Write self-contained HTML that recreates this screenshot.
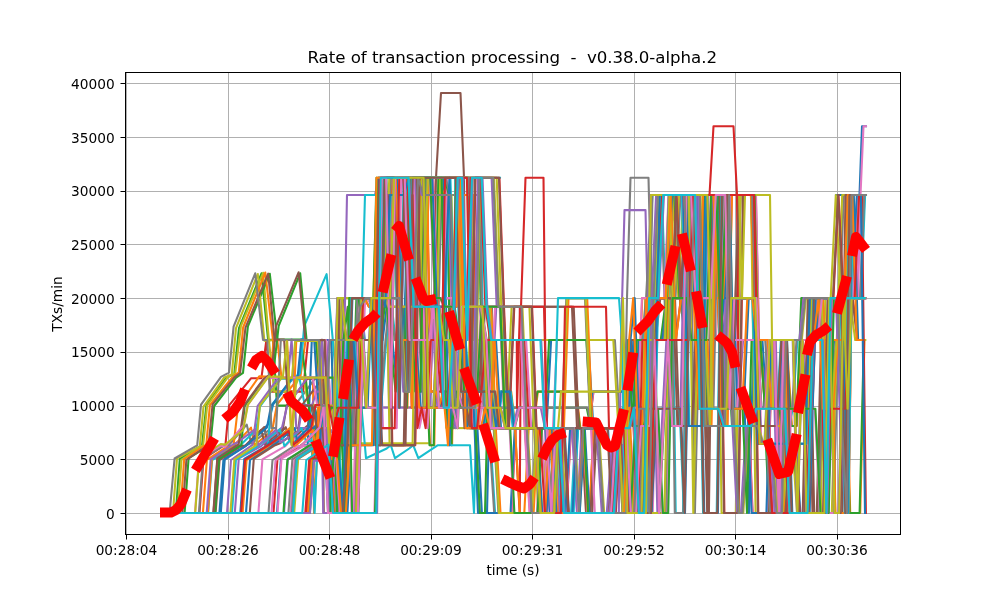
<!DOCTYPE html>
<html><head><meta charset="utf-8"><title>Rate of transaction processing</title>
<style>html,body{margin:0;padding:0;background:#fff;overflow:hidden}svg{display:block}</style></head><body>
<svg width="1000" height="600" viewBox="0 0 1000 600">
<rect width="1000" height="600" fill="#fff"/>
<defs><clipPath id="ax"><rect x="125" y="72" width="776" height="463"/></clipPath></defs>
<g fill="#b0b0b0">
<rect x="126" y="72" width="1" height="463"/>
<rect x="228" y="72" width="1" height="463"/>
<rect x="329" y="72" width="1" height="463"/>
<rect x="431" y="72" width="1" height="463"/>
<rect x="532" y="72" width="1" height="463"/>
<rect x="634" y="72" width="1" height="463"/>
<rect x="735" y="72" width="1" height="463"/>
<rect x="837" y="72" width="1" height="463"/>
<rect x="125" y="513" width="776" height="1"/>
<rect x="125" y="459" width="776" height="1"/>
<rect x="125" y="406" width="776" height="1"/>
<rect x="125" y="352" width="776" height="1"/>
<rect x="125" y="298" width="776" height="1"/>
<rect x="125" y="244" width="776" height="1"/>
<rect x="125" y="191" width="776" height="1"/>
<rect x="125" y="137" width="776" height="1"/>
<rect x="125" y="83" width="776" height="1"/>
</g>
<g clip-path="url(#ax)">
<g fill="none" stroke-width="2.08" stroke-linejoin="round" stroke-linecap="square">
<polyline stroke="#bcbd22" points="353.5,443.2 427.7,443.2"/>
<polyline stroke="#9467bd" points="366.0,407.7 424.0,407.7"/>
<polyline stroke="#bcbd22" points="424.0,407.7 479.0,407.7"/>
<polyline stroke="#bcbd22" points="451.0,428.1 479.0,428.1"/>
<polyline stroke="#d62728" points="423.0,391.6 448.0,391.6"/>
<polyline stroke="#bcbd22" points="377.0,177.8 430.0,177.8"/>
<polyline stroke="#17becf" points="430.0,177.8 500.0,177.8"/>
<polyline stroke="#e377c2" points="657.0,195.0 700.0,195.0"/>
<polyline stroke="#9467bd" points="700.0,195.0 746.0,195.0"/>
<polyline stroke="#1f77b4" points="836.0,195.0 866.0,195.0"/>
<polyline stroke="#1f77b4" points="170.9,513.0 220.8,513.0 224.8,458.6 246.8,445.1 250.9,442.9 268.2,424.2 273.0,404.7 293.6,377.3 298.6,377.3 302.7,340.0 306.9,340.0 311.7,340.0 317.0,340.0 321.8,340.0 327.2,340.0 331.5,340.0 333.0,407.7 337.8,407.7 342.2,407.7 347.0,513.0 351.1,298.1 355.3,298.1 360.6,298.1 364.8,340.0 370.1,340.0 374.4,340.0 378.4,177.8 382.6,340.0 387.8,298.1 392.3,340.0 397.6,391.6 402.1,340.0 407.1,340.0 412.5,177.8 417.3,391.6 422.3,391.6 426.7,177.8 430.9,177.8 435.1,177.8 439.4,177.8 443.5,177.8 448.5,428.1 453.5,428.1 458.1,391.6 462.4,407.7 467.3,407.7 472.4,428.1 477.4,428.1 481.9,513.0 487.0,513.0 492.0,306.7 497.2,306.7 502.0,306.7 507.0,428.1 511.8,428.1 515.9,428.1 520.1,428.1 524.2,428.1 528.4,428.1 532.8,428.1 537.1,428.1 541.7,428.1 546.5,428.1 551.1,340.0 555.2,340.0 560.2,340.0 564.9,340.0 569.3,340.0 574.2,340.0 579.0,340.0 583.9,340.0 588.2,340.0 593.4,428.1 598.4,428.1 602.8,428.1 608.1,428.1 612.3,428.1 616.7,428.1 621.7,428.1 626.5,428.1 630.6,340.0 634.6,426.0 638.7,340.0 643.6,340.0 647.8,340.0 652.3,340.0 656.9,340.0 662.2,340.0 667.4,340.0 672.5,195.0 677.1,195.0 681.8,195.0 686.7,195.0 690.9,195.0 696.2,195.0 700.7,298.1 705.6,195.0 710.7,195.0 715.9,195.0 720.8,195.0 725.4,408.8 730.2,408.8 735.2,408.8 739.8,408.8 744.5,408.8 748.9,513.0 753.6,340.0 758.0,340.0 762.4,340.0 766.8,408.8 771.6,408.8 776.2,408.8 781.4,408.8 786.5,443.7 791.5,443.7 795.9,443.7 800.4,513.0 804.7,513.0 809.9,513.0 815.0,513.0 819.6,513.0 823.8,513.0 828.3,513.0 832.5,298.1 837.4,298.1 842.6,298.1 847.1,298.1 851.1,298.1 855.8,298.1 860.3,298.1 864.7,298.1"/>
<polyline stroke="#ff7f0e" points="170.2,513.0 202.9,513.0 206.9,459.8 228.3,445.9 233.2,446.3 251.0,427.6 254.4,445.3 272.2,430.5 277.0,404.5 298.0,378.9 303.0,378.9 307.7,378.9 313.0,378.9 314.0,513.0 318.7,428.1 323.3,445.3 328.1,445.3 333.3,513.0 337.8,513.0 342.8,340.0 347.3,340.0 352.3,340.0 357.2,340.0 361.3,340.0 365.4,340.0 370.4,340.0 375.2,298.1 380.2,298.1 384.2,298.1 388.3,298.1 393.5,177.8 398.6,306.7 403.1,306.7 407.4,407.7 412.4,177.8 417.0,177.8 421.7,340.0 425.7,340.0 430.1,445.3 434.3,445.3 438.9,177.8 443.5,195.0 447.7,195.0 452.1,445.3 456.1,177.8 461.3,177.8 465.4,177.8 469.9,177.8 474.3,177.8 478.6,177.8 483.1,391.6 487.5,428.1 492.2,428.1 496.5,428.1 501.3,391.6 506.5,391.6 511.2,391.6 515.4,428.1 519.8,428.1 524.6,428.1 529.0,428.1 533.3,428.1 537.9,391.6 542.8,391.6 547.4,391.6 552.7,391.6 557.7,391.6 562.4,391.6 566.6,391.6 572.0,391.6 576.3,391.6 580.4,428.1 585.8,428.1 591.1,428.1 595.3,428.1 599.7,428.1 603.9,428.1 608.9,428.1 612.9,428.1 618.0,428.1 623.3,407.7 628.5,407.7 633.0,426.0 637.6,426.0 641.7,426.0 647.0,426.0 651.0,340.0 656.3,340.0 661.4,340.0 666.7,298.1 670.8,298.1 675.3,298.1 680.6,298.1 686.0,340.0 690.9,340.0 695.3,340.0 699.5,195.0 704.3,340.0 708.7,340.0 712.9,340.0 717.0,340.0 721.4,340.0 725.7,340.0 730.2,340.0 734.8,340.0 739.1,340.0 743.5,340.0 748.6,340.0 753.8,340.0 758.8,340.0 763.0,340.0 768.2,340.0 772.9,340.0 777.1,340.0 782.0,340.0 786.8,340.0 791.9,426.0 797.0,426.0 801.9,298.1 806.1,298.1 811.4,298.1 816.2,298.1 820.4,298.1 825.2,298.1 829.9,298.1 834.9,298.1 840.0,298.1 845.0,298.1 850.2,513.0 854.9,513.0 860.2,513.0 864.5,340.0"/>
<polyline stroke="#2ca02c" points="174.5,513.0 175.8,513.0 179.8,458.8 202.1,445.2 206.4,405.2 226.3,377.5 234.3,374.2 239.0,328.1 261.5,273.3 268.1,339.9 273.0,339.9 277.0,405.6 282.3,405.6 286.3,405.6 290.5,405.6 295.2,405.6 300.6,405.6 305.2,405.6 310.3,405.6 314.4,405.6 319.4,428.1 323.8,445.3 328.4,445.3 332.7,513.0 337.2,513.0 342.2,340.0 346.6,340.0 351.7,340.0 356.6,340.0 360.6,340.0 364.7,340.0 369.7,340.0 374.5,298.1 379.5,298.1 383.6,298.1 387.7,298.1 392.8,177.8 398.0,306.7 402.5,306.7 406.8,407.7 411.8,177.8 416.4,177.8 421.0,340.0 425.1,340.0 429.5,445.3 433.7,445.3 438.3,177.8 442.9,195.0 447.1,195.0 451.5,445.3 455.5,177.8 460.6,177.8 464.8,177.8 469.3,177.8 473.7,177.8 478.0,177.8 482.5,391.6 486.9,428.1 491.5,428.1 495.9,428.1 500.7,391.6 505.9,391.6 510.6,391.6 514.8,428.1 519.2,428.1 524.0,428.1 528.4,428.1 532.7,428.1 537.3,391.6 542.2,391.6 546.8,391.6 552.1,391.6 557.1,391.6 561.8,391.6 566.0,391.6 571.3,391.6 575.7,391.6 579.8,428.1 585.2,428.1 590.4,428.1 594.6,428.1 599.0,428.1 603.2,428.1 608.2,428.1 612.3,428.1 617.4,428.1 622.7,407.7 627.8,407.7 632.3,426.0 637.0,426.0 641.1,426.0 646.3,426.0 650.4,340.0 655.7,340.0 660.8,340.0 666.1,298.1 670.1,298.1 674.6,298.1 680.0,298.1 685.3,340.0 690.3,340.0 694.7,340.0 698.9,195.0 703.7,340.0 708.0,340.0 712.2,340.0 716.4,340.0 720.8,340.0 725.1,340.0 729.5,340.0 734.2,340.0 738.4,340.0 742.9,340.0 748.0,340.0 753.2,340.0 758.2,340.0 762.4,340.0 767.6,340.0 772.3,340.0 776.5,340.0 781.3,340.0 786.2,340.0 791.3,426.0 796.3,426.0 801.3,298.1 805.5,298.1 810.7,298.1 815.5,298.1 819.8,298.1 824.6,298.1 829.3,298.1 834.3,298.1 839.4,298.1 844.4,298.1 849.6,513.0 854.2,513.0 859.6,513.0 863.9,340.0"/>
<polyline stroke="#d62728" points="176.7,513.0 199.5,513.0 203.5,459.0 225.5,444.4 229.1,405.4 251.2,378.2 256.3,378.2 261.4,378.2 266.4,340.0 270.5,391.6 274.8,391.6 279.3,391.6 284.0,391.6 288.9,391.6 293.4,391.6 298.7,391.6 303.0,391.6 308.1,340.0 313.2,340.0 318.5,340.0 323.1,459.3 328.3,459.3 332.4,459.3 336.5,459.3 341.3,513.0 345.4,513.0 350.4,407.7 355.8,407.7 360.0,298.1 364.4,298.1 368.9,306.7 373.2,306.7 377.7,306.7 382.6,306.7 387.8,298.1 392.9,177.8 397.2,177.8 401.9,177.8 406.7,177.8 411.7,407.7 417.1,177.8 421.5,177.8 426.7,177.8 430.9,391.6 435.6,391.6 440.2,407.7 445.2,407.7 450.5,407.7 454.8,407.7 459.1,407.7 463.6,195.0 468.7,195.0 473.1,195.0 478.5,428.1 482.9,428.1 487.6,428.1 492.0,428.1 497.1,428.1 501.5,428.1 505.9,428.1 510.2,428.1 514.9,428.1 519.7,513.0 521.0,306.7 525.5,177.8 543.5,177.8 547.0,513.0 547.7,428.1 552.4,428.1 556.9,513.0 562.1,513.0 566.3,513.0 571.5,513.0 576.3,513.0 580.6,513.0 585.2,513.0 589.5,513.0 593.6,428.1 598.4,428.1 603.3,428.1 607.4,428.1 612.0,428.1 617.3,428.1 622.4,428.1 627.0,428.1 631.7,513.0 636.9,513.0 641.6,513.0 646.2,298.1 651.2,298.1 655.7,340.0 660.9,340.0 666.1,340.0 670.7,340.0 675.8,340.0 680.9,298.1 685.9,298.1 690.5,298.1 695.4,298.1 699.4,298.1 704.8,298.1 709.0,298.1 713.8,298.1 717.8,298.1 721.9,426.0 727.3,426.0 731.7,195.0 736.2,195.0 741.1,195.0 746.1,195.0 750.9,195.0 755.5,340.0 760.0,340.0 765.1,408.8 770.0,408.8 774.5,408.8 779.4,408.8 784.1,513.0 789.5,513.0 793.7,513.0 799.0,513.0 803.5,513.0 808.6,513.0 813.0,298.1 817.4,298.1 822.7,298.1 826.9,298.1 831.1,298.1 835.2,513.0 839.6,513.0 843.9,513.0 848.4,513.0 853.0,195.0 858.3,195.0 863.6,195.0"/>
<polyline stroke="#9467bd" points="176.6,513.0 284.0,513.0 288.0,459.0 310.2,446.4 314.4,446.7 332.4,429.8 334.8,513.0 338.8,513.0 342.9,513.0 347.2,513.0 351.3,513.0 356.3,513.0 361.6,340.0 365.7,407.7 370.1,407.7 375.5,407.7 380.2,177.8 384.5,177.8 389.2,407.7 393.4,177.8 398.6,177.8 403.1,177.8 407.9,340.0 413.1,340.0 417.3,340.0 422.2,340.0 427.6,340.0 432.0,306.7 437.3,407.7 441.6,407.7 446.8,407.7 451.5,407.7 455.9,428.1 460.2,306.7 465.0,306.7 469.1,306.7 474.5,306.7 479.3,306.7 484.7,340.0 489.2,428.1 494.3,428.1 498.9,428.1 503.8,428.1 508.2,428.1 512.7,428.1 517.8,407.7 522.2,407.7 527.1,407.7 531.9,407.7 536.3,407.7 540.8,407.7 544.9,428.1 549.5,513.0 553.9,428.1 558.6,428.1 563.5,428.1 567.8,428.1 572.4,428.1 576.9,513.0 581.3,513.0 585.7,513.0 590.8,513.0 595.4,513.0 599.9,513.0 604.1,513.0 609.4,513.0 614.6,428.1 620.0,428.1 624.8,428.1 629.4,513.0 634.4,513.0 639.4,426.0 643.9,426.0 648.0,426.0 652.9,340.0 657.4,513.0 661.8,426.0 666.4,340.0 670.7,426.0 675.9,426.0 680.2,426.0 684.9,195.0 689.5,195.0 693.9,298.1 699.2,298.1 704.5,298.1 709.1,298.1 714.2,195.0 718.9,195.0 723.6,195.0 727.9,408.8 732.7,298.1 737.5,298.1 741.7,298.1 745.8,298.1 750.6,298.1 754.8,298.1 759.5,408.8 763.5,408.8 767.8,340.0 772.6,340.0 777.5,513.0 781.9,340.0 786.2,340.0 790.9,340.0 796.0,340.0 800.5,340.0 805.8,340.0 811.2,340.0 816.1,340.0 820.3,298.1 825.2,298.1 830.3,298.1 835.5,298.1 840.5,298.1 845.8,298.1 851.2,298.1 855.5,298.1 860.2,298.1 864.6,195.0"/>
<polyline stroke="#8c564b" points="170.2,513.0 215.6,513.0 219.6,460.1 241.9,445.7 245.6,445.7 264.3,427.1 268.0,446.6 285.8,427.2 289.7,441.5 307.9,425.2 311.8,406.8 316.0,406.8 320.1,406.8 325.0,340.0 329.1,428.1 330.6,513.0 334.7,445.3 339.3,298.1 344.5,445.3 348.9,445.3 354.1,340.0 358.2,513.0 362.9,340.0 367.6,340.0 372.2,340.0 376.8,340.0 382.2,445.3 387.0,445.3 391.1,445.3 396.0,445.3 400.6,445.3 405.5,445.3 410.1,177.8 414.2,177.8 418.5,177.8 423.4,340.0 428.1,340.0 433.2,340.0 436.0,177.8 441.0,93.0 460.5,93.0 464.0,177.8 466.2,428.1 470.8,391.6 475.4,391.6 480.8,391.6 485.0,306.7 489.1,306.7 494.1,306.7 498.3,306.7 502.8,306.7 507.6,306.7 511.7,306.7 517.0,306.7 521.2,306.7 526.6,306.7 530.9,306.7 535.3,306.7 540.2,306.7 545.5,306.7 549.8,306.7 554.4,306.7 559.0,306.7 564.1,306.7 568.8,306.7 573.7,306.7 578.7,428.1 583.1,428.1 587.7,513.0 592.2,513.0 597.0,428.1 602.2,428.1 606.8,428.1 612.0,428.1 616.8,428.1 621.9,428.1 627.1,428.1 631.5,340.0 636.8,340.0 641.9,340.0 646.6,340.0 651.6,340.0 655.6,340.0 660.3,298.1 664.6,298.1 669.8,298.1 675.0,298.1 679.1,426.0 683.5,426.0 688.6,426.0 693.9,426.0 698.5,298.1 703.7,298.1 708.9,513.0 713.1,195.0 717.6,195.0 723.0,195.0 727.2,195.0 731.3,340.0 735.4,340.0 740.7,195.0 746.0,195.0 750.7,195.0 755.8,195.0 760.4,408.8 764.5,408.8 768.6,408.8 772.9,513.0 777.3,513.0 781.7,513.0 785.8,513.0 790.5,513.0 795.9,513.0 799.9,513.0 804.5,513.0 809.6,298.1 814.2,513.0 818.5,513.0 822.8,340.0 827.9,513.0 833.0,513.0 837.7,513.0 842.4,513.0 847.3,195.0 852.0,195.0 856.2,195.0 861.6,195.0"/>
<polyline stroke="#e377c2" points="166.6,513.0 258.4,513.0 262.4,459.3 284.9,446.4 289.1,442.1 307.1,430.3 310.7,442.5 315.1,442.5 320.4,442.5 321.9,340.0 326.0,340.0 331.2,407.7 335.4,407.7 340.7,407.7 345.6,407.7 350.7,407.7 355.9,407.7 360.1,407.7 365.2,298.1 369.9,298.1 374.1,298.1 378.4,298.1 383.0,428.1 387.2,428.1 391.9,428.1 396.7,428.1 401.2,177.8 405.4,177.8 410.2,298.1 414.5,195.0 419.4,428.1 423.6,407.7 427.6,428.1 432.8,340.0 437.6,340.0 443.0,391.6 447.1,177.8 451.3,177.8 455.6,177.8 459.9,177.8 464.5,177.8 468.9,177.8 473.8,428.1 479.0,428.1 483.3,391.6 488.3,340.0 493.4,340.0 497.8,340.0 502.3,340.0 507.4,340.0 512.3,340.0 516.8,340.0 521.9,340.0 526.1,340.0 531.3,428.1 536.5,428.1 541.7,428.1 547.0,513.0 552.2,513.0 557.3,513.0 562.2,513.0 567.6,513.0 572.8,513.0 577.8,428.1 582.3,428.1 587.4,428.1 592.8,428.1 596.9,428.1 602.0,428.1 606.4,428.1 610.7,428.1 615.2,428.1 620.5,428.1 625.9,428.1 630.4,513.0 635.8,513.0 640.0,513.0 644.4,340.0 648.7,340.0 652.7,513.0 657.2,340.0 661.9,340.0 666.9,340.0 671.1,340.0 675.8,340.0 681.1,340.0 685.4,340.0 690.6,340.0 695.0,195.0 700.0,195.0 704.0,195.0 709.0,195.0 713.2,195.0 718.6,195.0 722.7,195.0 726.8,195.0 731.7,195.0 736.7,195.0 741.3,195.0 746.6,195.0 751.0,195.0 756.0,195.0 761.2,443.7 765.3,443.7 770.0,443.7 774.2,513.0 779.2,513.0 784.6,513.0 789.0,513.0 793.3,513.0 798.2,513.0 802.8,513.0 807.9,513.0 812.9,513.0 817.6,513.0 822.1,513.0 827.3,513.0 832.5,408.8 836.9,408.8 842.0,408.8 847.2,408.8 851.8,298.1 856.6,298.1 861.1,195.0"/>
<polyline stroke="#7f7f7f" points="171.6,513.0 198.9,513.0 202.9,458.3 224.5,445.1 229.0,445.0 246.7,424.6 251.2,443.6 269.0,430.1 272.2,444.6 291.4,428.8 295.1,405.2 315.8,377.6 328.3,378.4 329.8,445.3 334.2,445.3 338.3,445.3 343.4,298.1 348.3,298.1 353.5,298.1 357.6,298.1 361.9,298.1 366.0,298.1 371.4,298.1 376.6,298.1 381.2,298.1 385.7,298.1 390.9,177.8 395.5,177.8 399.5,177.8 404.1,177.8 408.2,177.8 412.3,177.8 416.7,177.8 421.1,177.8 426.2,407.7 431.2,391.6 436.5,391.6 441.9,177.8 446.5,177.8 451.3,177.8 456.0,177.8 461.2,177.8 465.9,177.8 471.1,177.8 475.3,340.0 480.3,340.0 484.9,340.0 489.5,340.0 493.5,340.0 497.5,340.0 502.7,340.0 506.9,340.0 511.6,340.0 516.9,340.0 520.9,340.0 525.0,340.0 530.0,340.0 534.7,340.0 540.1,340.0 544.8,340.0 549.2,340.0 553.7,340.0 558.3,340.0 563.1,340.0 567.6,340.0 572.0,340.0 576.8,340.0 581.1,340.0 586.4,340.0 591.5,340.0 595.7,340.0 600.6,340.0 604.9,340.0 610.0,340.0 614.9,340.0 620.0,428.1 624.5,428.1 627.0,298.1 630.5,177.8 648.5,177.8 651.5,298.1 652.0,513.0 656.4,513.0 661.2,513.0 666.0,513.0 670.6,298.1 675.5,298.1 680.5,195.0 685.9,195.0 690.5,195.0 694.9,513.0 700.0,298.1 705.1,298.1 710.3,298.1 714.4,298.1 718.4,195.0 723.8,195.0 728.4,195.0 733.0,195.0 738.3,195.0 743.5,195.0 748.7,195.0 753.4,195.0 758.4,426.0 763.1,426.0 768.0,426.0 773.4,426.0 778.3,426.0 782.4,426.0 787.2,513.0 791.2,513.0 795.3,513.0 800.7,513.0 805.5,513.0 810.3,513.0 814.8,513.0 819.2,513.0 823.9,513.0 828.7,513.0 833.4,513.0 838.4,340.0 843.8,195.0 848.8,195.0 853.9,195.0 858.2,195.0 862.7,195.0"/>
<polyline stroke="#bcbd22" points="167.5,513.0 177.5,513.0 181.5,459.8 203.2,444.9 207.2,405.5 228.2,376.9 235.3,373.1 240.9,326.1 263.1,272.8 268.9,340.2 274.2,391.6 279.5,391.6 283.9,391.6 288.6,391.6 293.4,391.6 298.6,377.6 303.6,377.6 308.4,405.6 313.0,405.6 317.2,405.6 321.6,405.6 326.7,405.6 332.0,405.6 333.8,445.3 338.8,445.3 343.1,445.3 347.8,445.3 352.5,445.3 357.4,340.0 362.5,340.0 367.1,340.0 371.9,340.0 376.5,195.0 381.3,195.0 385.4,195.0 389.6,445.3 394.1,445.3 399.0,445.3 403.1,445.3 407.5,445.3 412.6,445.3 417.0,177.8 421.1,177.8 425.4,407.7 429.7,407.7 434.5,407.7 439.2,407.7 444.3,407.7 449.6,407.7 454.0,407.7 458.7,407.7 463.6,407.7 467.6,428.1 472.8,177.8 477.7,177.8 482.3,177.8 487.2,177.8 492.2,177.8 496.7,177.8 501.3,306.7 506.2,428.1 511.6,306.7 515.8,306.7 520.4,306.7 524.7,306.7 529.4,306.7 533.9,428.1 538.3,513.0 542.7,513.0 548.0,428.1 552.4,428.1 556.7,428.1 561.5,428.1 566.0,513.0 570.8,513.0 575.0,513.0 580.4,513.0 585.6,513.0 590.5,513.0 595.1,513.0 599.5,513.0 603.9,513.0 608.7,513.0 613.0,513.0 617.7,428.1 622.5,513.0 626.6,513.0 630.8,513.0 635.6,513.0 640.6,513.0 645.2,298.1 649.5,298.1 654.8,298.1 659.9,298.1 664.4,298.1 669.7,298.1 673.9,195.0 678.3,298.1 683.3,195.0 688.3,195.0 692.7,195.0 697.8,195.0 703.1,195.0 707.6,195.0 712.9,195.0 717.2,195.0 721.6,513.0 725.9,513.0 730.6,513.0 735.8,513.0 740.6,195.0 745.9,195.0 751.0,195.0 755.6,513.0 760.6,513.0 765.0,513.0 770.1,513.0 774.2,513.0 778.7,513.0 783.1,513.0 787.9,443.7 792.4,443.7 797.1,513.0 801.7,513.0 806.3,513.0 811.0,513.0 816.0,513.0 820.8,513.0 825.3,298.1 830.7,298.1 835.8,195.0 840.8,298.1 845.6,298.1 849.9,298.1 855.2,340.0 860.4,340.0 865.3,340.0"/>
<polyline stroke="#17becf" points="165.4,513.0 208.1,513.0 212.1,460.1 234.7,445.7 238.8,446.8 256.3,429.5 260.0,406.3 280.5,378.8 284.7,378.8 289.6,378.8 294.3,378.8 299.5,378.8 304.9,405.6 309.9,405.6 314.6,513.0 319.2,405.6 324.4,459.3 329.4,407.7 334.5,407.7 339.6,407.7 344.3,407.7 348.5,407.7 353.1,407.7 357.9,407.7 362.9,407.7 367.7,407.7 371.8,407.7 376.6,407.7 381.1,407.7 386.4,340.0 390.9,298.1 395.6,340.0 400.5,340.0 405.7,340.0 411.1,340.0 415.8,340.0 420.2,340.0 424.3,407.7 428.4,407.7 432.7,407.7 437.8,407.7 442.0,407.7 447.2,407.7 452.1,407.7 457.0,195.0 462.0,195.0 466.8,195.0 471.8,195.0 475.9,195.0 480.5,195.0 484.9,428.1 489.7,428.1 495.1,513.0 499.3,513.0 503.5,513.0 508.6,513.0 513.5,513.0 517.8,513.0 522.6,513.0 527.3,513.0 531.5,513.0 536.0,513.0 541.3,513.0 546.5,513.0 550.8,513.0 556.1,428.1 560.6,428.1 564.7,428.1 568.9,513.0 573.4,513.0 578.2,428.1 583.5,428.1 588.0,428.1 592.2,428.1 596.3,428.1 600.9,428.1 605.4,428.1 610.0,428.1 614.4,428.1 619.4,428.1 623.8,428.1 627.9,340.0 633.1,340.0 638.2,340.0 642.9,340.0 647.0,298.1 652.4,195.0 657.8,195.0 661.9,195.0 667.0,340.0 671.4,195.0 675.7,513.0 679.7,513.0 683.9,513.0 688.8,195.0 693.1,195.0 697.3,298.1 702.1,298.1 706.7,298.1 712.0,298.1 716.9,298.1 721.1,195.0 725.3,195.0 730.7,340.0 734.9,298.1 739.5,298.1 744.8,298.1 748.8,298.1 753.9,298.1 758.1,426.0 762.8,426.0 767.3,426.0 771.6,426.0 775.7,426.0 779.8,426.0 784.2,426.0 788.8,426.0 792.9,408.8 797.4,340.0 802.7,340.0 807.4,340.0 812.6,340.0 817.8,340.0 822.9,340.0 827.7,340.0 832.6,340.0 837.9,340.0 843.2,298.1 847.3,298.1 851.6,298.1 856.3,298.1 861.0,298.1 865.1,195.0"/>
<polyline stroke="#1f77b4" points="173.7,513.0 277.0,513.0 281.0,458.2 303.4,445.4 307.7,445.0 311.8,340.0 317.2,340.0 319.9,445.3 324.7,445.3 329.7,445.3 334.2,513.0 338.8,513.0 343.4,513.0 347.7,445.3 352.4,298.1 357.4,298.1 361.8,298.1 367.2,298.1 371.3,298.1 376.2,445.3 380.9,445.3 385.0,177.8 389.9,177.8 395.0,177.8 399.7,407.7 404.9,177.8 409.2,391.6 413.3,177.8 418.5,177.8 422.9,177.8 427.8,177.8 432.2,177.8 437.1,177.8 441.3,177.8 446.5,177.8 451.4,177.8 456.3,177.8 461.6,391.6 466.6,391.6 471.8,391.6 477.0,391.6 481.5,391.6 486.5,391.6 491.0,391.6 495.4,391.6 499.5,428.1 504.5,428.1 509.1,428.1 514.3,428.1 519.0,428.1 524.4,428.1 528.8,428.1 533.2,428.1 537.3,428.1 541.9,428.1 546.6,428.1 551.7,428.1 556.2,428.1 560.8,428.1 565.0,428.1 569.5,428.1 574.3,428.1 579.4,428.1 584.2,428.1 588.9,428.1 593.6,428.1 597.8,428.1 602.9,428.1 608.0,428.1 612.2,513.0 616.6,513.0 621.6,513.0 626.2,513.0 631.4,513.0 636.7,513.0 641.7,513.0 646.1,513.0 651.5,513.0 656.8,408.8 661.7,408.8 666.3,408.8 670.3,408.8 675.7,408.8 680.7,408.8 685.0,513.0 689.4,298.1 694.6,298.1 699.7,298.1 704.3,513.0 708.9,513.0 713.5,513.0 717.9,513.0 722.4,195.0 727.6,195.0 732.0,408.8 736.1,298.1 741.2,298.1 746.0,298.1 750.3,298.1 755.1,298.1 760.4,426.0 764.6,426.0 769.0,426.0 773.1,426.0 777.4,426.0 782.0,340.0 787.1,340.0 792.3,513.0 796.4,513.0 800.6,513.0 804.9,513.0 809.3,513.0 814.4,298.1 818.4,298.1 823.4,298.1 827.9,298.1 832.0,298.1 836.6,298.1 841.9,298.1 845.9,513.0 850.0,195.0 854.5,195.0 855.0,195.0 859.5,195.0 862.0,126.3 866.0,126.3"/>
<polyline stroke="#ff7f0e" points="175.5,513.0 207.9,513.0 211.9,458.1 233.6,445.2 238.0,406.5 259.2,376.4 270.8,376.9 273.4,340.8 277.4,340.8 281.5,377.6 285.5,377.6 290.4,377.6 295.6,377.6 300.3,377.6 305.6,340.0 311.0,340.0 316.2,340.0 320.6,340.0 325.3,459.3 330.6,513.0 335.6,445.3 340.2,513.0 344.9,513.0 349.1,513.0 353.8,513.0 358.5,298.1 362.6,298.1 367.4,298.1 372.8,306.7 377.4,306.7 381.5,177.8 386.6,177.8 390.7,177.8 395.5,177.8 400.7,306.7 405.4,177.8 409.5,177.8 413.7,177.8 418.5,306.7 423.6,306.7 428.9,407.7 433.1,298.1 438.5,298.1 442.7,298.1 447.8,298.1 452.7,298.1 457.7,391.6 462.4,407.7 466.5,407.7 471.8,407.7 475.9,407.7 480.2,407.7 484.8,407.7 490.1,407.7 495.4,306.7 500.1,306.7 504.9,306.7 510.2,306.7 515.0,306.7 520.1,306.7 525.0,428.1 529.9,513.0 534.6,513.0 538.8,513.0 544.1,513.0 548.8,428.1 554.1,428.1 559.1,513.0 563.7,513.0 568.5,513.0 573.7,513.0 577.9,513.0 581.9,513.0 586.5,513.0 590.7,513.0 595.1,513.0 599.5,513.0 604.2,513.0 609.2,513.0 613.5,513.0 618.0,513.0 623.0,513.0 628.3,407.7 633.6,407.7 638.2,407.7 642.2,298.1 646.8,298.1 651.4,298.1 656.0,298.1 660.2,298.1 664.7,298.1 668.8,195.0 673.8,195.0 678.7,195.0 683.2,195.0 687.7,195.0 692.4,195.0 697.2,298.1 701.2,298.1 705.6,298.1 710.1,298.1 714.4,298.1 718.4,195.0 723.6,408.8 729.0,408.8 733.3,408.8 737.4,408.8 742.2,340.0 747.0,340.0 752.0,340.0 756.9,340.0 761.1,340.0 766.2,340.0 770.8,340.0 775.0,340.0 779.0,513.0 783.6,513.0 788.5,513.0 793.6,513.0 797.9,513.0 802.7,513.0 807.2,513.0 811.9,513.0 816.9,513.0 821.0,513.0 825.1,513.0 829.9,513.0 834.6,513.0 839.4,513.0 844.5,298.1 849.1,195.0 853.5,298.1 858.8,298.1 863.3,298.1"/>
<polyline stroke="#2ca02c" points="171.4,513.0 184.6,513.0 188.6,458.1 210.3,444.9 214.2,406.0 236.1,377.7 243.0,372.9 247.9,326.3 269.8,273.8 277.4,339.5 282.7,339.5 287.9,339.5 292.1,339.5 296.4,339.5 300.9,339.5 305.7,377.6 311.0,428.1 316.1,428.1 320.6,428.1 325.8,428.1 330.9,459.3 336.2,445.3 341.1,445.3 346.2,445.3 351.5,445.3 356.4,298.1 360.4,298.1 364.5,298.1 369.1,298.1 374.5,298.1 378.7,407.7 383.6,195.0 388.2,195.0 392.7,195.0 397.2,195.0 401.4,195.0 406.3,195.0 411.0,177.8 415.1,177.8 419.7,177.8 424.2,177.8 428.2,177.8 432.4,177.8 436.6,177.8 440.7,177.8 444.7,177.8 448.8,195.0 453.0,195.0 458.0,195.0 463.2,177.8 468.0,177.8 472.6,391.6 477.1,391.6 482.1,391.6 487.1,391.6 492.0,407.7 497.2,407.7 501.9,407.7 506.1,407.7 511.0,407.7 516.2,407.7 521.5,407.7 526.5,407.7 530.6,407.7 535.3,407.7 540.5,407.7 545.3,407.7 549.7,407.7 554.8,407.7 559.8,407.7 564.2,407.7 568.8,407.7 573.1,407.7 577.3,407.7 581.5,407.7 586.7,407.7 590.9,428.1 595.3,428.1 599.5,428.1 604.5,428.1 609.4,428.1 614.3,428.1 618.5,428.1 623.6,513.0 628.0,513.0 633.3,513.0 638.1,513.0 642.2,407.7 646.3,426.0 651.5,195.0 655.8,195.0 661.0,195.0 665.1,195.0 670.1,195.0 674.3,195.0 679.5,298.1 683.8,298.1 688.1,298.1 693.4,298.1 698.5,298.1 703.6,340.0 708.3,408.8 712.4,408.8 717.3,195.0 722.5,195.0 727.4,340.0 732.0,426.0 736.6,426.0 741.3,426.0 745.3,426.0 749.8,426.0 754.5,426.0 759.8,426.0 765.1,426.0 769.1,513.0 773.8,513.0 778.1,513.0 783.4,513.0 788.3,513.0 792.7,513.0 797.8,513.0 803.2,513.0 808.5,513.0 812.5,513.0 817.8,513.0 823.1,340.0 828.2,340.0 833.1,340.0 837.4,340.0 841.9,340.0 847.2,340.0 851.6,298.1 856.2,298.1 861.5,298.1"/>
<polyline stroke="#d62728" points="167.4,513.0 273.5,513.0 277.5,458.3 300.2,446.0 303.8,443.3 321.9,427.0 325.1,406.8 329.9,406.8 333.9,406.8 335.4,445.3 340.7,513.0 344.9,513.0 349.6,340.0 354.0,445.3 358.8,298.1 363.0,298.1 367.6,298.1 372.3,298.1 376.7,298.1 381.8,298.1 386.2,298.1 390.4,298.1 395.0,298.1 399.2,298.1 404.5,340.0 409.7,195.0 414.3,195.0 418.9,177.8 424.1,177.8 428.3,177.8 433.2,177.8 437.9,306.7 442.2,306.7 446.7,306.7 451.6,306.7 455.7,306.7 460.4,177.8 464.6,407.7 469.5,407.7 474.6,407.7 478.9,513.0 483.4,513.0 487.8,513.0 493.0,513.0 497.8,513.0 502.6,513.0 507.1,513.0 511.4,513.0 515.7,428.1 519.9,428.1 524.0,428.1 528.4,428.1 533.3,428.1 537.6,428.1 542.5,428.1 547.0,428.1 551.0,513.0 556.3,513.0 561.1,513.0 566.4,513.0 571.1,428.1 575.9,428.1 580.6,428.1 584.8,428.1 588.9,428.1 593.5,391.6 597.5,391.6 602.4,391.6 606.7,391.6 611.0,391.6 615.3,391.6 620.2,391.6 624.5,391.6 629.1,426.0 634.4,340.0 639.7,407.7 644.7,407.7 649.5,340.0 654.1,340.0 658.7,340.0 663.2,340.0 668.5,298.1 672.6,298.1 677.0,298.1 681.1,298.1 685.4,298.1 689.5,298.1 694.7,298.1 698.9,195.0 703.9,195.0 708.1,195.0 709.5,195.0 713.5,126.3 733.5,126.3 737.0,195.0 738.7,408.8 743.8,408.8 748.5,408.8 752.6,513.0 756.6,513.0 761.9,513.0 767.3,513.0 772.5,340.0 777.8,340.0 782.8,340.0 788.2,340.0 792.8,340.0 797.8,340.0 802.7,340.0 807.7,408.8 812.4,408.8 816.7,298.1 821.7,298.1 825.8,298.1 830.0,298.1 834.0,298.1 838.5,298.1 843.1,298.1 847.7,298.1 852.5,298.1 857.8,195.0 861.9,195.0 865.9,513.0"/>
<polyline stroke="#9467bd" points="169.1,513.0 227.0,513.0 231.0,460.0 252.5,444.9 257.6,406.1 277.9,378.4 288.0,377.6 291.6,339.4 296.3,428.1 301.4,428.1 305.9,428.1 310.7,428.1 316.0,445.3 321.1,459.3 326.2,459.3 331.4,513.0 336.5,445.3 341.1,513.0 345.8,513.0 350.0,513.0 354.7,513.0 359.4,298.1 363.5,298.1 368.3,298.1 373.7,306.7 378.3,306.7 382.4,177.8 387.5,177.8 391.5,177.8 396.3,177.8 401.6,306.7 406.3,177.8 410.3,177.8 414.6,177.8 419.4,306.7 424.5,306.7 429.8,407.7 434.0,298.1 439.3,298.1 443.6,298.1 448.7,298.1 453.6,298.1 458.6,391.6 463.3,407.7 467.4,407.7 472.7,407.7 476.7,407.7 481.0,407.7 485.7,407.7 491.0,407.7 496.3,306.7 501.0,306.7 505.7,306.7 511.1,306.7 515.8,306.7 520.9,306.7 525.8,428.1 530.8,513.0 535.5,513.0 539.7,513.0 544.9,513.0 549.7,428.1 555.0,428.1 559.9,513.0 564.6,513.0 569.4,513.0 574.6,513.0 578.8,513.0 582.8,513.0 587.3,513.0 591.5,513.0 596.0,513.0 600.4,513.0 605.1,513.0 610.1,513.0 614.3,513.0 618.8,513.0 621.0,340.0 624.5,210.1 645.5,210.1 648.5,340.0 652.3,298.1 656.9,298.1 661.1,298.1 665.6,298.1 669.7,195.0 674.7,195.0 679.6,195.0 684.1,195.0 688.5,195.0 693.2,195.0 698.0,298.1 702.0,298.1 706.4,298.1 711.0,298.1 715.3,298.1 719.3,195.0 724.5,408.8 729.9,408.8 734.1,408.8 738.2,408.8 743.1,340.0 747.8,340.0 752.9,340.0 757.8,340.0 762.0,340.0 767.0,340.0 771.7,340.0 775.8,340.0 779.9,513.0 784.5,513.0 789.4,513.0 794.5,513.0 798.7,513.0 803.5,513.0 808.1,513.0 812.8,513.0 817.8,513.0 821.9,513.0 826.0,513.0 830.8,513.0 835.5,513.0 840.3,513.0 845.3,298.1 850.0,195.0 854.3,298.1 859.7,298.1 864.2,298.1"/>
<polyline stroke="#8c564b" points="174.7,513.0 213.3,513.0 217.3,458.6 238.9,445.7 243.6,447.3 261.2,429.8 265.0,445.0 282.8,429.4 286.7,405.6 307.8,378.2 317.9,378.7 321.9,339.8 323.8,513.0 329.0,513.0 333.4,459.3 338.0,298.1 342.2,298.1 346.5,340.0 351.6,340.0 356.9,340.0 361.7,340.0 366.4,407.7 371.8,298.1 376.9,298.1 381.0,298.1 385.2,298.1 390.2,298.1 394.3,177.8 398.9,177.8 404.2,177.8 408.6,177.8 413.7,177.8 418.7,177.8 423.9,177.8 429.0,407.7 433.8,407.7 439.1,306.7 444.2,340.0 449.2,340.0 453.2,407.7 457.8,407.7 463.1,306.7 468.3,306.7 472.4,306.7 477.2,306.7 482.6,306.7 487.4,407.7 491.7,407.7 496.3,407.7 500.6,407.7 505.7,428.1 510.0,428.1 514.0,428.1 518.2,428.1 522.4,428.1 527.2,428.1 531.4,428.1 535.9,428.1 540.7,513.0 544.7,513.0 549.3,513.0 554.2,513.0 559.4,513.0 563.7,513.0 568.7,513.0 572.9,513.0 578.1,513.0 583.5,513.0 588.2,513.0 592.4,513.0 597.6,513.0 602.7,513.0 607.5,513.0 612.6,445.3 617.3,445.3 622.6,445.3 627.6,513.0 632.1,513.0 636.9,513.0 641.7,513.0 646.3,513.0 651.2,195.0 655.7,195.0 660.6,195.0 665.6,195.0 669.7,195.0 674.6,195.0 679.7,195.0 684.4,195.0 689.1,195.0 694.0,195.0 698.0,195.0 702.8,195.0 707.5,195.0 712.7,408.8 717.6,408.8 721.6,408.8 726.8,408.8 731.6,298.1 736.4,298.1 741.7,298.1 746.0,298.1 750.6,298.1 755.3,298.1 760.0,443.7 765.1,443.7 769.9,340.0 774.9,340.0 779.8,340.0 784.1,340.0 788.3,340.0 793.4,340.0 797.6,513.0 802.8,340.0 806.8,513.0 812.0,513.0 816.5,513.0 820.5,513.0 824.7,513.0 829.6,298.1 834.7,513.0 839.3,513.0 843.7,298.1 847.9,408.8 852.0,298.1 856.9,298.1 861.0,298.1 865.5,298.1"/>
<polyline stroke="#e377c2" points="166.8,513.0 277.5,513.0 281.5,458.5 303.7,445.9 308.1,445.5 326.1,430.4 329.3,444.0 330.8,445.3 335.1,445.3 340.4,513.0 344.6,513.0 349.3,340.0 353.7,445.3 358.5,298.1 362.7,298.1 367.3,298.1 372.0,298.1 376.4,298.1 381.5,298.1 385.9,298.1 390.1,298.1 394.7,298.1 398.9,298.1 404.2,340.0 409.4,195.0 414.1,195.0 418.6,177.8 423.9,177.8 428.0,177.8 432.9,177.8 437.6,306.7 442.0,306.7 446.4,306.7 451.4,306.7 455.4,306.7 460.1,177.8 464.3,407.7 469.2,407.7 474.4,407.7 478.7,513.0 483.1,513.0 487.5,513.0 492.7,513.0 497.5,513.0 502.3,513.0 506.8,513.0 511.1,513.0 515.4,428.1 519.6,428.1 523.7,428.1 528.2,428.1 533.0,428.1 537.3,428.1 542.2,428.1 546.7,428.1 550.7,513.0 556.0,513.0 560.8,513.0 566.1,513.0 570.8,428.1 575.6,428.1 580.3,428.1 584.5,428.1 588.6,428.1 593.2,391.6 597.2,391.6 602.2,391.6 606.4,391.6 610.7,391.6 615.0,391.6 619.9,391.6 624.2,391.6 628.8,426.0 634.1,340.0 639.5,407.7 644.4,407.7 649.2,340.0 653.8,340.0 658.4,340.0 662.9,340.0 668.2,298.1 672.3,298.1 676.7,298.1 680.8,298.1 685.1,298.1 689.2,298.1 694.4,298.1 698.6,195.0 703.6,195.0 707.8,195.0 711.9,195.0 716.0,340.0 720.3,340.0 725.1,298.1 729.4,298.1 734.2,298.1 738.4,408.8 743.5,408.8 748.2,408.8 752.3,513.0 756.3,513.0 761.7,513.0 767.0,513.0 772.2,340.0 777.6,340.0 782.6,340.0 787.9,340.0 792.5,340.0 797.5,340.0 802.4,340.0 807.4,408.8 812.1,408.8 816.4,298.1 821.5,298.1 825.5,298.1 829.7,298.1 833.7,298.1 838.2,298.1 842.8,298.1 847.4,298.1 852.2,298.1 857.5,195.0 858.0,298.1 860.5,195.0 863.5,126.3 866.0,126.3"/>
<polyline stroke="#7f7f7f" points="174.9,513.0 268.5,513.0 272.5,460.0 294.6,445.6 298.8,447.4 316.8,430.9 318.3,405.6 323.5,459.3 328.5,407.7 333.6,407.7 338.7,407.7 343.4,407.7 347.6,407.7 352.2,407.7 357.0,407.7 362.0,407.7 366.8,407.7 370.8,407.7 375.7,407.7 380.2,407.7 385.5,340.0 390.0,298.1 394.7,340.0 399.6,340.0 404.8,340.0 410.2,340.0 414.9,340.0 419.3,340.0 423.4,407.7 427.5,407.7 431.8,407.7 436.9,407.7 441.1,407.7 446.3,407.7 451.2,407.7 456.1,195.0 461.1,195.0 465.9,195.0 470.9,195.0 475.0,195.0 479.6,195.0 484.0,428.1 488.8,428.1 494.2,513.0 498.4,513.0 502.6,513.0 507.7,513.0 512.6,513.0 516.9,513.0 521.7,513.0 526.4,513.0 530.6,513.0 535.1,513.0 540.4,513.0 545.6,513.0 549.9,513.0 555.2,428.1 559.7,428.1 563.8,428.1 568.0,513.0 572.5,513.0 577.3,428.1 582.6,428.1 587.1,428.1 591.3,428.1 595.4,428.1 600.0,428.1 604.5,428.1 609.1,428.1 613.5,428.1 618.4,428.1 622.9,428.1 627.0,340.0 632.2,340.0 637.3,340.0 642.0,340.0 646.1,298.1 651.5,195.0 656.9,195.0 661.0,195.0 666.0,340.0 670.5,195.0 674.8,513.0 678.8,513.0 683.0,513.0 687.9,195.0 692.2,195.0 696.4,298.1 701.2,298.1 705.8,298.1 711.1,298.1 716.0,298.1 720.2,195.0 724.4,195.0 729.8,340.0 734.0,298.1 738.6,298.1 743.9,298.1 747.9,298.1 753.0,298.1 757.2,426.0 761.9,426.0 766.4,426.0 770.7,426.0 774.8,426.0 778.9,426.0 783.3,426.0 787.9,426.0 792.0,408.8 796.5,340.0 801.8,340.0 806.5,340.0 811.7,340.0 816.9,340.0 822.0,340.0 826.8,340.0 831.7,340.0 837.0,340.0 842.3,298.1 846.4,298.1 850.7,298.1 855.4,298.1 860.1,298.1 864.2,195.0"/>
<polyline stroke="#bcbd22" points="170.9,513.0 173.0,513.0 177.0,458.3 199.8,446.3 203.5,406.7 224.3,377.4 231.8,374.5 236.0,328.1 257.8,274.0 264.4,340.6 268.9,340.6 273.3,340.0 277.8,340.0 282.7,340.0 288.0,340.0 292.6,340.0 296.8,340.0 301.9,340.0 306.0,340.0 311.3,340.0 315.8,340.0 319.9,340.0 323.7,405.6 328.2,445.3 332.6,445.3 336.7,445.3 341.8,298.1 346.7,298.1 351.9,298.1 356.0,298.1 360.3,298.1 364.4,298.1 369.8,298.1 375.0,298.1 379.6,298.1 384.1,298.1 389.3,177.8 393.9,177.8 397.9,177.8 402.5,177.8 406.6,177.8 410.7,177.8 415.1,177.8 419.5,177.8 424.6,407.7 429.6,391.6 434.9,391.6 440.3,177.8 444.9,177.8 449.7,177.8 454.4,177.8 459.6,177.8 464.3,177.8 469.5,177.8 473.7,340.0 478.7,340.0 483.3,340.0 487.9,340.0 491.9,340.0 495.9,340.0 501.1,340.0 505.3,340.0 510.0,340.0 515.3,340.0 519.3,340.0 523.4,340.0 528.4,340.0 533.1,340.0 538.5,340.0 543.2,340.0 547.6,340.0 552.1,340.0 556.7,340.0 561.5,340.0 566.0,340.0 570.4,340.0 575.2,340.0 579.5,340.0 584.8,340.0 589.9,340.0 594.1,340.0 599.0,340.0 603.3,340.0 608.4,340.0 613.3,340.0 618.4,428.1 622.9,428.1 627.0,513.0 631.4,513.0 636.1,513.0 641.5,513.0 646.3,513.0 650.4,513.0 654.8,513.0 659.6,513.0 664.4,513.0 669.0,298.1 673.9,298.1 678.9,195.0 684.3,195.0 688.9,195.0 693.3,513.0 698.4,298.1 703.5,298.1 708.7,298.1 712.8,298.1 716.8,195.0 722.2,195.0 726.8,195.0 731.4,195.0 736.7,195.0 741.9,195.0 747.1,195.0 751.8,195.0 756.8,426.0 761.5,426.0 766.4,426.0 771.8,426.0 776.7,426.0 780.8,426.0 785.6,513.0 789.6,513.0 793.7,513.0 799.1,513.0 803.9,513.0 808.7,513.0 813.2,513.0 817.6,513.0 822.3,513.0 827.1,513.0 831.8,513.0 836.8,340.0 842.2,195.0 847.2,195.0 852.3,195.0 856.6,195.0 861.1,195.0 865.7,195.0"/>
<polyline stroke="#17becf" points="172.1,513.0 241.5,513.0 245.5,459.1 267.5,446.3 271.6,405.1 292.7,378.4 300.0,373.5 304.2,326.1 326.6,274.2 332.9,341.0 337.1,391.6 341.8,513.0 346.6,340.0 352.0,340.0 357.4,407.7 361.5,407.7 366.0,458.2 386.7,448.5 390.8,445.3 395.0,458.2 409.2,448.5 413.3,445.3 418.3,458.2 437.5,445.3 470.0,445.3 474.0,513.0 477.0,391.6 481.3,391.6 485.8,391.6 489.9,391.6 494.8,428.1 500.2,391.6 504.4,391.6 508.4,391.6 512.8,428.1 516.9,428.1 521.2,428.1 525.8,428.1 530.1,428.1 534.4,428.1 539.5,428.1 543.7,428.1 548.7,428.1 552.7,428.1 557.4,428.1 561.4,513.0 565.9,513.0 571.1,513.0 575.6,428.1 579.6,428.1 584.7,428.1 589.1,428.1 594.5,428.1 599.7,428.1 604.8,428.1 610.0,428.1 614.2,428.1 619.0,428.1 624.3,428.1 629.2,513.0 633.6,513.0 638.9,513.0 644.0,513.0 648.3,408.8 653.5,408.8 658.3,195.0 662.8,195.0 667.7,195.0 671.7,195.0 677.1,195.0 681.9,195.0 687.1,426.0 691.5,426.0 696.8,426.0 700.9,426.0 705.3,195.0 710.5,195.0 715.1,195.0 719.5,298.1 724.6,298.1 729.1,298.1 734.3,298.1 738.4,298.1 742.5,298.1 747.8,298.1 752.2,298.1 757.0,443.7 762.2,443.7 767.4,443.7 771.9,443.7 776.0,443.7 780.5,443.7 785.2,443.7 790.1,443.7 794.6,443.7 799.2,443.7 804.3,443.7 808.5,298.1 812.7,298.1 817.9,298.1 822.2,298.1 827.0,298.1 832.3,298.1 837.6,298.1 841.8,298.1 846.1,513.0 850.6,195.0 854.7,195.0 860.1,195.0 864.7,195.0"/>
<polyline stroke="#1f77b4" points="176.4,513.0 246.0,513.0 250.0,459.8 271.9,446.0 276.1,443.5 294.7,428.0 297.5,443.1 315.3,425.9 319.5,443.2 324.6,443.2 329.8,443.2 334.4,445.3 339.7,513.0 343.9,513.0 348.6,340.0 353.1,445.3 357.8,298.1 362.0,298.1 366.6,298.1 371.3,298.1 375.7,298.1 380.9,298.1 385.3,298.1 389.4,298.1 394.0,298.1 398.2,298.1 403.6,340.0 408.7,195.0 413.4,195.0 417.9,177.8 423.2,177.8 427.4,177.8 432.2,177.8 436.9,306.7 441.3,306.7 445.7,306.7 450.7,306.7 454.7,306.7 459.4,177.8 463.7,407.7 468.5,407.7 473.7,407.7 478.0,513.0 482.5,513.0 486.8,513.0 492.0,513.0 496.8,513.0 501.7,513.0 506.1,513.0 510.5,513.0 514.8,428.1 518.9,428.1 523.0,428.1 527.5,428.1 532.3,428.1 536.6,428.1 541.6,428.1 546.0,428.1 550.1,513.0 555.3,513.0 560.1,513.0 565.4,513.0 570.1,428.1 574.9,428.1 579.7,428.1 583.8,428.1 587.9,428.1 592.5,391.6 596.5,391.6 601.5,391.6 605.7,391.6 610.0,391.6 614.3,391.6 619.2,391.6 623.5,391.6 628.1,426.0 633.4,340.0 638.8,407.7 643.7,407.7 648.5,340.0 653.1,340.0 657.7,340.0 662.3,340.0 667.6,298.1 671.6,298.1 676.0,298.1 680.2,298.1 684.4,298.1 688.6,298.1 693.7,298.1 697.9,195.0 702.9,195.0 707.1,195.0 711.2,195.0 715.3,340.0 719.6,340.0 724.4,298.1 728.7,298.1 733.5,298.1 737.7,408.8 742.8,408.8 747.6,408.8 751.6,513.0 755.7,513.0 761.0,513.0 766.4,513.0 771.5,340.0 776.9,340.0 781.9,340.0 787.3,340.0 791.8,340.0 796.8,340.0 801.7,340.0 806.7,408.8 811.5,408.8 815.7,298.1 820.8,298.1 824.9,298.1 829.0,298.1 833.0,298.1 837.6,298.1 842.1,298.1 846.7,298.1 851.5,298.1 856.8,195.0 860.9,195.0 865.0,513.0"/>
<polyline stroke="#ff7f0e" points="172.7,513.0 180.2,513.0 184.2,459.0 206.3,444.5 209.9,405.1 231.3,378.4 238.8,372.3 243.1,327.5 265.3,272.5 273.0,340.2 278.0,340.2 282.8,340.2 287.1,340.2 292.0,445.3 296.3,340.0 301.0,340.0 306.1,340.0 311.5,340.0 316.5,340.0 319.2,459.3 323.2,459.3 328.4,459.3 332.5,459.3 336.6,459.3 341.5,513.0 345.5,513.0 350.6,407.7 355.9,407.7 360.2,298.1 364.6,298.1 369.0,306.7 373.4,306.7 377.9,306.7 382.8,306.7 388.0,298.1 393.1,177.8 397.4,177.8 402.0,177.8 406.9,177.8 411.9,407.7 417.3,177.8 421.6,177.8 426.9,177.8 431.0,391.6 435.8,391.6 440.3,407.7 445.4,407.7 450.6,407.7 455.0,407.7 459.3,407.7 463.8,195.0 468.9,195.0 473.3,195.0 478.6,428.1 483.1,428.1 487.7,428.1 492.1,428.1 497.3,428.1 501.6,428.1 506.0,428.1 510.3,428.1 515.0,428.1 519.9,513.0 524.3,513.0 528.7,428.1 534.0,428.1 538.2,428.1 542.9,428.1 547.9,428.1 552.5,428.1 557.1,513.0 562.3,513.0 566.5,513.0 571.7,513.0 576.4,513.0 580.7,513.0 585.4,513.0 589.7,513.0 593.7,428.1 598.5,428.1 603.5,428.1 607.6,428.1 612.1,428.1 617.5,428.1 622.6,428.1 627.1,428.1 631.8,513.0 637.0,513.0 641.7,513.0 646.3,298.1 651.3,298.1 655.9,340.0 661.0,340.0 666.2,340.0 670.9,340.0 675.9,340.0 681.0,298.1 686.1,298.1 690.7,298.1 695.5,298.1 699.5,298.1 704.9,298.1 709.2,298.1 713.9,298.1 718.0,298.1 722.1,426.0 727.4,426.0 731.9,195.0 736.3,195.0 741.2,195.0 746.3,195.0 751.1,195.0 755.7,340.0 760.2,340.0 765.2,408.8 770.2,408.8 774.6,408.8 779.5,408.8 784.3,513.0 789.6,513.0 793.8,513.0 799.2,513.0 803.7,513.0 808.8,513.0 813.1,298.1 817.5,298.1 822.9,298.1 827.0,298.1 831.3,298.1 835.4,513.0 839.8,513.0 844.0,513.0 848.5,513.0 853.1,195.0 858.4,195.0 863.8,195.0"/>
<polyline stroke="#2ca02c" points="165.4,513.0 215.0,513.0 219.0,458.9 241.3,445.2 244.6,406.4 266.7,378.1 273.4,372.1 278.7,325.9 300.2,273.3 306.6,340.4 311.2,340.4 315.8,340.4 319.8,377.6 324.4,377.6 329.3,377.6 333.7,377.6 336.7,513.0 340.7,513.0 344.8,513.0 349.1,513.0 353.3,513.0 358.2,513.0 363.5,340.0 367.6,407.7 372.0,407.7 377.4,407.7 382.1,177.8 386.4,177.8 391.1,407.7 395.3,177.8 400.5,177.8 405.0,177.8 409.8,340.0 415.0,340.0 419.2,340.0 424.1,340.0 429.5,340.0 433.9,306.7 439.2,407.7 443.5,407.7 448.7,407.7 453.4,407.7 457.8,428.1 462.2,306.7 466.9,306.7 471.1,306.7 476.4,306.7 481.2,306.7 486.6,340.0 491.1,428.1 496.2,428.1 500.9,428.1 505.7,428.1 510.1,428.1 514.6,428.1 519.7,407.7 524.1,407.7 529.0,407.7 533.8,407.7 538.2,407.7 542.7,407.7 546.8,428.1 551.5,513.0 555.8,428.1 560.5,428.1 565.4,428.1 569.7,428.1 574.3,428.1 578.8,513.0 583.3,513.0 587.6,513.0 592.7,513.0 597.3,513.0 601.9,513.0 606.0,513.0 611.3,513.0 616.5,428.1 621.9,428.1 626.7,428.1 631.3,513.0 636.3,513.0 641.3,426.0 645.8,426.0 649.9,426.0 654.8,340.0 659.3,513.0 663.8,426.0 668.3,340.0 672.6,426.0 677.8,426.0 682.1,426.0 686.8,195.0 691.4,195.0 695.9,298.1 701.1,298.1 706.4,298.1 711.0,298.1 716.1,195.0 720.8,195.0 725.5,195.0 729.8,408.8 734.6,298.1 739.5,298.1 743.6,298.1 747.7,298.1 752.5,298.1 756.7,298.1 761.4,408.8 765.4,408.8 769.7,340.0 774.5,340.0 779.4,513.0 783.8,340.0 788.1,340.0 792.8,340.0 797.9,340.0 802.4,340.0 807.8,340.0 813.2,340.0 818.0,340.0 822.2,298.1 827.1,298.1 832.2,298.1 837.4,298.1 842.4,298.1 847.7,298.1 853.1,298.1 857.5,298.1 862.1,298.1"/>
<polyline stroke="#d62728" points="172.3,513.0 306.6,513.0 310.6,458.6 314.6,458.6 319.8,405.6 325.1,405.6 327.1,405.6 331.2,445.3 336.5,445.3 341.6,445.3 345.8,445.3 350.6,445.3 355.3,445.3 360.1,340.0 365.3,340.0 369.8,340.0 374.7,340.0 379.2,195.0 384.0,195.0 388.1,195.0 392.3,445.3 396.8,445.3 401.7,445.3 405.8,445.3 410.2,445.3 415.3,445.3 419.7,177.8 423.9,177.8 428.1,407.7 432.5,407.7 437.2,407.7 441.9,407.7 447.0,407.7 452.3,407.7 456.7,407.7 461.4,407.7 466.3,407.7 470.3,428.1 475.5,177.8 480.4,177.8 485.1,177.8 489.9,177.8 494.9,177.8 499.4,177.8 504.0,306.7 509.0,428.1 514.3,306.7 518.6,306.7 523.1,306.7 527.4,306.7 532.1,306.7 536.6,428.1 541.1,513.0 545.4,513.0 550.8,428.1 555.2,428.1 559.5,428.1 564.2,428.1 568.7,513.0 573.6,513.0 577.7,513.0 583.1,513.0 588.3,513.0 593.3,513.0 597.8,513.0 602.3,513.0 606.6,513.0 611.4,513.0 615.8,513.0 620.4,428.1 625.2,513.0 629.4,513.0 633.5,513.0 638.4,513.0 643.4,513.0 647.9,298.1 652.3,298.1 657.5,298.1 662.6,298.1 667.1,298.1 672.4,298.1 676.6,195.0 681.0,298.1 686.0,195.0 691.0,195.0 695.4,195.0 700.5,195.0 705.8,195.0 710.3,195.0 715.6,195.0 719.9,195.0 724.4,513.0 728.6,513.0 733.3,513.0 738.6,513.0 743.4,195.0 748.6,195.0 753.7,195.0 758.3,513.0 763.3,513.0 767.8,513.0 772.8,513.0 776.9,513.0 781.4,513.0 785.8,513.0 790.6,443.7 795.2,443.7 799.8,513.0 804.4,513.0 809.0,513.0 813.7,513.0 818.7,513.0 823.5,513.0 828.0,298.1 833.4,298.1 838.5,195.0 843.5,298.1 848.4,298.1 852.7,298.1 857.9,340.0 863.1,340.0"/>
<polyline stroke="#9467bd" points="176.8,513.0 234.8,513.0 238.8,458.4 261.3,446.1 265.5,442.0 282.1,427.2 287.0,406.5 307.8,377.0 318.1,377.6 322.0,339.9 324.3,405.6 328.6,340.0 333.1,340.0 338.4,340.0 343.0,407.7 347.0,195.0 375.0,195.0 379.0,177.8 379.2,298.1 384.4,298.1 389.4,298.1 393.8,298.1 398.2,298.1 403.3,391.6 407.5,391.6 411.6,306.7 416.4,177.8 421.7,195.0 426.4,195.0 430.5,195.0 435.7,195.0 439.7,195.0 444.8,195.0 449.1,195.0 453.9,407.7 458.8,407.7 463.4,407.7 468.5,407.7 473.2,407.7 477.9,177.8 482.6,177.8 487.4,177.8 491.6,177.8 496.7,306.7 501.2,306.7 505.4,306.7 510.5,306.7 515.7,306.7 520.0,306.7 525.1,428.1 530.3,513.0 534.7,513.0 539.1,513.0 543.3,513.0 547.8,513.0 552.6,513.0 557.2,428.1 562.5,428.1 567.6,428.1 571.9,428.1 577.3,513.0 581.6,428.1 586.8,428.1 592.0,428.1 596.4,428.1 601.8,513.0 606.2,513.0 610.3,513.0 614.3,513.0 618.8,513.0 623.8,513.0 628.2,513.0 632.5,513.0 637.7,408.8 642.6,408.8 647.6,513.0 651.8,298.1 656.1,195.0 660.6,195.0 664.7,195.0 668.9,195.0 673.7,195.0 677.8,195.0 682.9,195.0 687.7,340.0 693.0,195.0 698.2,195.0 703.2,426.0 708.3,426.0 713.4,426.0 718.6,426.0 723.2,426.0 727.4,195.0 731.6,408.8 736.9,513.0 740.9,513.0 746.2,426.0 751.4,426.0 755.9,426.0 761.2,443.7 765.6,443.7 769.9,443.7 774.9,513.0 780.2,513.0 784.3,340.0 789.5,340.0 794.1,340.0 799.4,340.0 803.5,298.1 808.2,298.1 813.3,298.1 817.3,298.1 821.7,298.1 826.8,298.1 830.8,298.1 836.0,298.1 840.2,426.0 845.2,513.0 849.9,195.0 854.9,195.0 860.2,195.0 864.2,195.0"/>
<polyline stroke="#8c564b" points="176.9,513.0 249.8,513.0 253.8,458.9 275.1,445.2 279.5,443.6 298.1,430.8 301.2,406.1 323.2,377.4 324.4,405.6 328.9,513.0 333.0,445.3 337.5,298.1 342.7,445.3 347.2,445.3 352.4,340.0 356.5,513.0 361.2,340.0 365.8,340.0 370.5,340.0 375.1,340.0 380.4,445.3 385.3,445.3 389.4,445.3 394.3,445.3 398.8,445.3 403.8,445.3 408.4,177.8 412.5,177.8 416.8,177.8 421.7,340.0 426.4,340.0 431.5,340.0 436.1,340.0 440.8,340.0 445.4,340.0 450.3,306.7 455.3,340.0 459.4,340.0 464.5,428.1 469.0,391.6 473.7,391.6 479.1,391.6 483.3,306.7 487.3,306.7 492.3,306.7 496.6,306.7 501.1,306.7 505.8,306.7 509.9,306.7 515.3,306.7 519.5,306.7 524.9,306.7 529.2,306.7 533.6,306.7 538.5,306.7 543.8,306.7 548.0,306.7 552.7,306.7 557.3,306.7 562.4,306.7 567.0,306.7 572.0,306.7 577.0,428.1 581.4,428.1 586.0,513.0 590.5,513.0 595.3,428.1 600.5,428.1 605.1,428.1 610.3,428.1 615.1,428.1 620.1,428.1 625.4,428.1 629.7,340.0 635.1,340.0 640.2,340.0 644.9,340.0 649.9,340.0 653.9,340.0 658.6,298.1 662.9,298.1 668.1,298.1 673.3,298.1 677.4,426.0 681.8,426.0 686.9,426.0 692.2,426.0 696.8,298.1 702.0,298.1 707.2,513.0 711.4,195.0 715.9,195.0 721.2,195.0 725.5,195.0 729.6,340.0 733.7,340.0 739.0,195.0 744.3,195.0 749.0,195.0 754.1,195.0 758.7,408.8 762.7,408.8 766.9,408.8 771.2,513.0 775.6,513.0 780.0,513.0 784.1,513.0 788.8,513.0 794.1,513.0 798.2,513.0 802.7,513.0 807.8,298.1 812.5,513.0 816.8,513.0 821.0,340.0 826.2,513.0 831.2,513.0 836.0,513.0 840.7,513.0 845.5,195.0 850.3,195.0 854.5,195.0 859.8,195.0 865.1,195.0"/>
<polyline stroke="#e377c2" points="172.7,513.0 290.6,513.0 294.6,458.9 317.3,444.0 321.1,442.9 325.3,442.9 330.2,513.0 335.3,445.3 339.9,513.0 344.6,513.0 348.8,513.0 353.5,513.0 358.2,298.1 362.2,298.1 367.1,298.1 372.4,306.7 377.1,306.7 381.1,177.8 386.3,177.8 390.3,177.8 395.1,177.8 400.4,306.7 405.0,177.8 409.1,177.8 413.4,177.8 418.2,306.7 423.2,306.7 428.6,407.7 432.7,298.1 438.1,298.1 442.4,298.1 447.4,298.1 452.3,298.1 457.4,391.6 462.1,407.7 466.2,407.7 471.5,407.7 475.5,407.7 479.8,407.7 484.5,407.7 489.8,407.7 495.1,306.7 499.8,306.7 504.5,306.7 509.8,306.7 514.6,306.7 519.7,306.7 524.6,428.1 529.6,513.0 534.3,513.0 538.5,513.0 543.7,513.0 548.4,428.1 553.0,428.1 557.0,340.0 588.0,340.0 591.0,428.1 594.8,513.0 599.2,513.0 603.8,513.0 608.9,513.0 613.1,513.0 617.6,513.0 622.7,513.0 627.9,407.7 633.3,407.7 637.8,407.7 641.9,298.1 646.4,298.1 651.1,298.1 655.7,298.1 659.9,298.1 664.4,298.1 668.5,195.0 673.5,195.0 678.4,195.0 682.9,195.0 687.3,195.0 692.0,195.0 696.8,298.1 700.8,298.1 705.2,298.1 709.8,298.1 714.1,298.1 718.1,195.0 723.3,408.8 728.7,408.8 732.9,408.8 737.0,408.8 741.9,340.0 746.6,340.0 751.6,340.0 756.6,340.0 760.8,340.0 765.8,340.0 770.5,340.0 774.6,340.0 778.7,513.0 783.2,513.0 788.2,513.0 793.2,513.0 797.5,513.0 802.3,513.0 806.8,513.0 811.6,513.0 816.6,513.0 820.7,513.0 824.8,513.0 829.6,513.0 834.2,513.0 839.0,513.0 844.1,298.1 848.8,195.0 853.1,298.1 858.5,298.1 863.0,298.1"/>
<polyline stroke="#7f7f7f" points="168.3,513.0 288.4,513.0 292.4,459.2 314.1,446.1 318.4,445.1 323.2,445.1 327.4,459.3 331.8,459.3 337.2,445.3 342.0,445.3 347.1,445.3 352.4,445.3 357.3,298.1 361.4,298.1 365.5,298.1 370.0,298.1 375.4,298.1 379.7,407.7 384.5,195.0 389.1,195.0 393.6,195.0 398.1,195.0 402.4,195.0 407.2,195.0 411.9,177.8 416.0,177.8 420.7,177.8 425.1,177.8 429.2,177.8 433.3,177.8 437.6,177.8 441.7,177.8 445.7,177.8 449.8,195.0 454.0,195.0 459.0,195.0 464.1,177.8 469.0,177.8 473.5,391.6 478.1,391.6 483.0,391.6 488.1,391.6 492.9,407.7 498.1,407.7 502.8,407.7 507.1,407.7 512.0,407.7 517.1,407.7 522.4,407.7 527.5,407.7 531.5,407.7 536.3,407.7 541.5,407.7 546.2,407.7 550.7,407.7 555.8,407.7 560.7,407.7 565.1,407.7 569.7,407.7 574.1,407.7 578.2,407.7 582.5,407.7 587.7,407.7 591.8,428.1 596.2,428.1 600.4,428.1 605.4,428.1 610.4,428.1 615.3,428.1 619.4,428.1 624.6,513.0 629.0,513.0 634.3,513.0 639.1,513.0 643.1,407.7 647.2,426.0 652.5,195.0 656.7,195.0 662.0,195.0 666.1,195.0 671.0,195.0 675.2,195.0 680.4,298.1 684.7,298.1 689.1,298.1 694.4,298.1 699.4,298.1 704.5,340.0 709.3,408.8 713.4,408.8 718.2,195.0 723.5,195.0 728.4,340.0 732.9,426.0 737.6,426.0 742.2,426.0 746.3,426.0 750.7,426.0 755.5,426.0 760.7,426.0 766.0,426.0 770.1,513.0 774.7,513.0 779.1,513.0 784.3,513.0 789.2,513.0 793.7,513.0 798.8,513.0 804.1,513.0 809.5,513.0 813.5,513.0 818.8,513.0 824.1,340.0 829.2,340.0 834.0,340.0 838.3,340.0 842.9,340.0 848.1,340.0 852.6,298.1 857.1,298.1 862.5,298.1"/>
<polyline stroke="#bcbd22" points="170.2,513.0 294.2,513.0 298.2,458.9 320.9,444.2 323.7,442.6 328.3,442.6 332.6,442.6 335.5,340.0 340.8,340.0 345.8,340.0 350.9,340.0 355.7,340.0 360.9,306.7 366.3,298.1 371.5,298.1 376.9,298.1 381.6,298.1 386.8,298.1 391.8,298.1 396.2,298.1 400.6,298.1 405.7,391.6 409.9,391.6 414.0,306.7 418.8,177.8 424.1,195.0 428.8,195.0 432.9,195.0 438.1,195.0 442.1,195.0 447.2,195.0 451.5,195.0 456.3,407.7 461.2,407.7 465.8,407.7 470.9,407.7 475.6,407.7 480.3,177.8 485.0,177.8 489.8,177.8 494.0,177.8 499.1,306.7 503.6,306.7 507.8,306.7 512.9,306.7 518.1,306.7 522.4,306.7 527.5,428.1 532.7,513.0 537.1,513.0 541.5,513.0 545.7,513.0 550.2,513.0 555.0,513.0 559.6,428.1 564.9,428.1 569.9,428.1 574.3,428.1 579.7,513.0 584.0,428.1 589.2,428.1 594.4,428.1 598.8,428.1 604.2,513.0 608.6,513.0 612.7,513.0 616.7,513.0 621.2,513.0 626.2,513.0 630.6,513.0 634.8,513.0 640.1,408.8 645.0,408.8 650.0,513.0 654.2,298.1 658.5,195.0 662.9,195.0 667.1,195.0 671.2,195.0 676.1,195.0 680.2,195.0 685.3,195.0 690.1,340.0 695.4,195.0 700.6,195.0 705.5,426.0 710.7,426.0 715.8,426.0 720.9,426.0 725.6,426.0 729.8,195.0 734.0,408.8 739.2,513.0 743.3,513.0 748.6,426.0 753.8,426.0 758.3,426.0 763.6,443.7 768.0,443.7 772.3,443.7 777.3,513.0 782.6,513.0 786.7,340.0 791.9,340.0 796.5,340.0 801.8,340.0 805.9,298.1 810.6,298.1 815.7,298.1 819.7,298.1 824.1,298.1 829.2,298.1 833.2,298.1 838.3,298.1 842.6,426.0 847.6,513.0 852.3,195.0 857.3,195.0 862.6,195.0"/>
<polyline stroke="#17becf" points="170.4,513.0 231.9,513.0 235.9,459.9 258.2,445.9 261.1,443.3 279.9,429.4 284.4,446.1 301.5,428.0 306.1,441.3 310.3,441.3 315.3,441.3 319.3,459.3 323.8,405.6 329.1,513.0 333.7,445.3 338.8,445.3 344.1,513.0 348.9,340.0 354.3,340.0 359.7,407.7 361.0,340.0 365.0,195.0 379.0,195.0 383.0,298.1 386.0,306.7 390.8,195.0 395.4,195.0 399.8,195.0 404.7,195.0 409.8,177.8 414.7,306.7 419.3,306.7 423.3,306.7 428.0,306.7 432.1,306.7 436.4,306.7 440.7,306.7 445.1,306.7 450.4,177.8 455.2,340.0 460.3,340.0 465.5,340.0 470.5,391.6 474.7,391.6 479.3,391.6 483.6,391.6 488.0,391.6 492.1,391.6 497.1,428.1 502.4,391.6 506.6,391.6 510.7,391.6 515.1,428.1 519.2,428.1 523.4,428.1 528.0,428.1 532.4,428.1 536.6,428.1 541.7,428.1 546.0,428.1 550.9,428.1 555.0,428.1 559.7,428.1 563.7,513.0 568.2,513.0 573.4,513.0 577.8,428.1 581.9,428.1 586.9,428.1 591.4,428.1 596.7,428.1 602.0,428.1 607.1,428.1 612.2,428.1 616.5,428.1 621.2,428.1 626.6,428.1 631.5,513.0 635.9,513.0 641.2,513.0 646.2,513.0 650.6,408.8 655.7,408.8 660.5,195.0 665.0,195.0 669.9,195.0 674.0,195.0 679.3,195.0 684.2,195.0 689.4,426.0 693.8,426.0 699.0,426.0 703.2,426.0 707.6,195.0 712.8,195.0 717.3,195.0 721.8,298.1 726.8,298.1 731.4,298.1 736.6,298.1 740.7,298.1 744.8,298.1 750.0,298.1 754.5,298.1 759.3,443.7 764.5,443.7 769.7,443.7 774.1,443.7 778.2,443.7 782.7,443.7 787.5,443.7 792.4,443.7 796.9,443.7 801.4,443.7 806.5,443.7 810.8,298.1 815.0,298.1 820.1,298.1 824.5,298.1 829.3,298.1 834.5,298.1 839.9,298.1 844.1,298.1 848.4,513.0 852.9,195.0 857.0,195.0 862.3,195.0"/>
<polyline stroke="#1f77b4" points="170.9,513.0 219.4,513.0 223.4,460.4 245.2,446.4 249.3,442.7 267.0,427.4 270.9,406.6 292.0,378.0 297.6,377.4 301.4,339.3 305.6,340.0 310.2,340.0 314.2,340.0 318.4,405.6 323.3,405.6 327.9,459.3 332.9,459.3 337.6,445.3 342.6,513.0 347.3,513.0 351.4,445.3 355.5,445.3 360.5,445.3 364.7,445.3 368.7,445.3 373.4,445.3 378.0,177.8 383.1,177.8 387.8,177.8 392.8,177.8 397.2,177.8 402.5,340.0 407.0,340.0 411.1,340.0 415.9,340.0 420.8,407.7 426.0,407.7 431.3,407.7 435.9,407.7 440.1,407.7 444.5,391.6 449.5,445.3 453.9,306.7 458.1,306.7 462.7,177.8 467.1,428.1 472.4,428.1 477.2,428.1 482.3,428.1 486.7,407.7 491.3,428.1 496.0,340.0 501.0,428.1 505.8,428.1 510.0,428.1 514.1,428.1 518.2,428.1 523.1,428.1 527.6,428.1 532.6,428.1 537.4,428.1 542.2,513.0 546.5,513.0 551.4,428.1 556.4,513.0 561.6,513.0 566.3,513.0 570.5,513.0 574.7,513.0 579.7,513.0 584.8,428.1 589.4,513.0 593.7,513.0 598.9,513.0 603.3,513.0 607.5,513.0 611.6,513.0 616.7,513.0 621.1,513.0 625.7,513.0 630.5,340.0 634.7,298.1 639.0,426.0 643.4,426.0 648.8,298.1 653.2,298.1 658.3,298.1 662.3,298.1 667.1,298.1 672.3,195.0 677.4,195.0 681.6,195.0 685.8,195.0 689.9,298.1 695.0,298.1 700.3,408.8 704.4,195.0 709.6,195.0 714.9,195.0 720.1,298.1 724.5,298.1 729.8,195.0 734.2,408.8 739.1,408.8 743.7,408.8 748.7,298.1 753.8,298.1 758.3,340.0 762.4,340.0 767.7,340.0 771.9,340.0 777.2,340.0 782.2,340.0 786.5,340.0 790.9,513.0 795.3,513.0 799.4,513.0 804.7,513.0 809.5,513.0 814.8,340.0 820.1,298.1 824.3,408.8 829.6,408.8 834.1,340.0 839.3,340.0 844.2,340.0 849.3,195.0 853.8,195.0 858.1,340.0 862.6,340.0"/>
<polyline stroke="#ff7f0e" points="173.7,513.0 307.9,513.0 311.9,458.8 315.8,428.1 320.3,428.1 324.4,428.1 329.2,428.1 334.4,513.0 339.3,513.0 343.8,513.0 348.2,513.0 353.6,513.0 357.8,513.0 362.8,298.1 367.9,298.1 371.9,298.1 376.5,298.1 381.7,298.1 386.4,298.1 390.4,306.7 395.0,306.7 399.6,306.7 404.4,306.7 409.0,306.7 414.4,306.7 419.3,306.7 424.0,306.7 429.4,177.8 434.2,177.8 438.8,177.8 444.1,177.8 449.2,177.8 453.9,177.8 458.2,177.8 463.6,340.0 468.4,306.7 472.6,306.7 477.8,306.7 482.7,306.7 486.8,306.7 491.3,306.7 495.8,428.1 500.5,513.0 505.4,513.0 509.7,513.0 514.8,513.0 519.4,513.0 524.2,513.0 528.3,513.0 533.6,513.0 538.2,428.1 542.9,428.1 548.2,428.1 553.6,428.1 558.7,428.1 563.9,428.1 568.5,298.1 573.2,298.1 578.2,298.1 582.5,298.1 587.2,298.1 592.4,428.1 597.6,428.1 601.8,428.1 606.9,428.1 611.1,428.1 615.9,428.1 620.3,428.1 624.7,513.0 629.5,407.7 634.0,513.0 638.1,513.0 643.1,513.0 648.0,340.0 653.3,340.0 657.5,340.0 662.1,340.0 666.6,340.0 671.0,195.0 675.5,340.0 680.8,340.0 685.8,340.0 689.9,340.0 693.9,340.0 698.7,340.0 702.7,340.0 707.2,340.0 711.5,426.0 716.2,195.0 720.7,195.0 726.0,195.0 731.2,195.0 735.9,195.0 740.7,195.0 744.7,195.0 749.3,195.0 754.3,195.0 758.5,340.0 762.8,340.0 767.3,340.0 771.4,408.8 775.6,408.8 780.1,408.8 785.2,408.8 790.1,408.8 795.3,408.8 800.0,408.8 804.6,408.8 809.1,408.8 813.5,298.1 818.4,298.1 822.9,298.1 828.0,408.8 832.9,408.8 838.1,340.0 842.3,340.0 846.5,340.0 850.7,195.0 854.7,195.0 858.8,195.0 862.8,195.0"/>
<polyline stroke="#2ca02c" points="174.1,513.0 283.4,513.0 287.4,459.9 308.6,445.9 313.6,443.9 315.7,428.1 321.1,428.1 326.0,428.1 331.0,407.7 335.8,407.7 340.3,407.7 345.1,513.0 349.2,298.1 353.4,298.1 358.7,298.1 362.9,340.0 368.2,340.0 372.5,340.0 376.5,177.8 380.6,340.0 385.8,298.1 390.4,340.0 395.6,391.6 400.2,340.0 405.2,340.0 410.5,177.8 415.3,391.6 420.3,391.6 424.7,177.8 429.0,177.8 433.1,177.8 437.5,177.8 441.6,177.8 446.5,428.1 451.6,428.1 456.2,391.6 460.4,407.7 465.3,407.7 470.4,428.1 475.5,428.1 479.9,513.0 485.0,513.0 490.0,306.7 495.2,306.7 500.0,306.7 505.0,428.1 509.8,428.1 514.0,428.1 518.2,428.1 522.2,428.1 526.4,428.1 530.8,428.1 535.2,428.1 539.7,428.1 544.5,428.1 549.1,340.0 553.2,340.0 558.2,340.0 562.9,340.0 567.4,340.0 572.3,340.0 577.0,340.0 582.0,340.0 586.3,340.0 591.5,428.1 596.5,428.1 600.9,428.1 606.2,428.1 610.3,428.1 614.8,428.1 619.8,428.1 624.6,428.1 628.6,340.0 632.7,426.0 636.8,340.0 641.6,340.0 645.8,340.0 650.4,340.0 654.9,340.0 660.2,340.0 665.4,340.0 670.6,195.0 675.2,195.0 679.8,195.0 684.8,195.0 688.9,195.0 694.3,195.0 698.7,298.1 703.7,195.0 708.7,195.0 713.9,195.0 718.9,195.0 723.5,408.8 728.2,408.8 733.2,408.8 737.8,408.8 742.6,408.8 747.0,513.0 751.6,340.0 756.0,340.0 760.4,340.0 764.9,408.8 769.7,408.8 774.3,408.8 779.4,408.8 784.5,443.7 789.6,443.7 793.9,443.7 798.4,513.0 802.8,513.0 808.0,513.0 813.1,513.0 817.6,513.0 821.8,513.0 826.3,513.0 830.5,298.1 835.5,298.1 840.7,298.1 845.1,298.1 849.2,298.1 853.8,298.1 858.4,298.1 862.7,298.1"/>
<polyline stroke="#d62728" points="172.2,513.0 305.3,513.0 309.3,458.4 314.0,458.4 319.0,458.4 323.4,458.4 328.2,405.6 332.0,513.0 336.6,513.0 341.4,513.0 346.3,513.0 350.6,513.0 355.6,513.0 360.3,513.0 365.5,513.0 370.1,513.0 375.2,513.0 379.6,177.8 383.6,177.8 388.5,177.8 393.4,177.8 398.6,177.8 402.6,177.8 407.4,177.8 412.5,306.7 417.7,306.7 422.2,306.7 427.4,306.7 432.3,306.7 437.7,306.7 442.5,407.7 447.7,407.7 451.8,340.0 456.5,177.8 460.8,177.8 465.8,340.0 470.8,177.8 475.6,177.8 480.6,177.8 485.4,306.7 490.1,340.0 494.3,340.0 498.3,340.0 502.6,340.0 507.5,340.0 512.1,340.0 516.8,340.0 517.0,407.7 520.0,306.7 544.0,306.7 547.0,428.1 548.3,428.1 553.4,428.1 557.9,428.1 562.8,513.0 567.2,513.0 571.5,513.0 576.0,513.0 580.8,513.0 585.4,513.0 589.4,513.0 593.7,513.0 598.2,513.0 603.2,513.0 607.7,513.0 612.7,513.0 617.5,428.1 622.7,428.1 628.0,428.1 632.6,407.7 637.6,513.0 643.0,513.0 648.0,298.1 652.7,298.1 656.9,298.1 662.1,195.0 667.1,195.0 672.4,195.0 676.7,195.0 680.9,195.0 685.1,195.0 689.9,195.0 694.0,195.0 698.6,408.8 703.8,408.8 709.0,408.8 713.1,408.8 717.4,408.8 722.6,426.0 726.9,426.0 731.2,426.0 735.2,426.0 739.3,426.0 744.6,426.0 749.9,426.0 754.9,408.8 759.9,408.8 765.2,408.8 769.8,408.8 774.0,408.8 778.4,408.8 783.6,408.8 788.4,513.0 792.9,513.0 797.8,513.0 802.2,513.0 806.5,513.0 811.7,340.0 816.0,340.0 821.0,340.0 825.3,513.0 829.4,298.1 833.9,298.1 838.8,298.1 843.7,298.1 849.1,298.1 854.0,298.1 858.5,298.1 863.6,298.1"/>
<polyline stroke="#9467bd" points="172.9,513.0 206.7,513.0 210.7,459.3 232.8,444.5 236.9,442.8 255.3,429.0 257.9,445.5 276.3,429.5 280.3,442.3 298.3,431.6 302.6,405.0 306.8,405.0 312.0,405.0 316.7,391.6 321.1,391.6 323.2,513.0 328.4,513.0 332.7,459.3 337.3,298.1 341.5,298.1 345.8,340.0 351.0,340.0 356.2,340.0 361.0,340.0 365.8,407.7 371.1,298.1 376.2,298.1 380.3,298.1 384.5,298.1 389.6,298.1 393.7,177.8 398.2,177.8 403.5,177.8 408.0,177.8 413.0,177.8 418.0,177.8 423.2,177.8 428.3,407.7 433.1,407.7 438.4,306.7 443.6,340.0 448.5,340.0 452.6,407.7 457.1,407.7 462.5,306.7 467.6,306.7 471.7,306.7 476.5,306.7 481.9,306.7 486.7,407.7 491.0,407.7 495.6,407.7 499.9,407.7 505.0,428.1 509.3,428.1 513.3,428.1 517.6,428.1 521.7,428.1 526.5,428.1 530.7,428.1 535.2,428.1 540.0,513.0 544.0,513.0 548.6,513.0 553.6,513.0 558.8,513.0 563.0,513.0 568.0,513.0 572.3,513.0 577.4,513.0 582.8,513.0 587.5,513.0 591.7,513.0 596.9,513.0 602.1,513.0 606.8,513.0 611.9,445.3 616.6,445.3 621.9,445.3 627.0,513.0 631.4,513.0 636.2,513.0 641.0,513.0 645.6,513.0 650.5,195.0 655.0,195.0 659.9,195.0 664.9,195.0 669.0,195.0 673.9,195.0 679.0,195.0 683.8,195.0 688.5,195.0 693.3,195.0 697.3,195.0 702.1,195.0 706.9,195.0 712.0,408.8 716.9,408.8 721.0,408.8 726.1,408.8 730.9,298.1 735.8,298.1 741.0,298.1 745.3,298.1 749.9,298.1 754.6,298.1 759.3,443.7 764.4,443.7 769.3,340.0 774.2,340.0 779.1,340.0 783.4,340.0 787.7,340.0 792.7,340.0 797.0,513.0 802.1,340.0 806.1,513.0 811.3,513.0 815.8,513.0 819.8,513.0 824.0,513.0 828.9,298.1 834.1,513.0 838.6,513.0 843.0,298.1 847.2,408.8 851.3,298.1 856.2,298.1 860.3,298.1 864.8,298.1"/>
<polyline stroke="#8c564b" points="174.1,513.0 213.5,513.0 217.5,458.1 238.7,444.1 244.2,405.0 263.7,378.8 271.5,373.6 276.2,325.9 298.6,272.3 305.4,340.1 310.2,340.1 314.6,340.1 319.7,340.1 324.7,340.1 326.7,405.6 330.8,445.3 336.1,445.3 341.2,445.3 345.4,445.3 350.2,445.3 354.9,445.3 359.7,340.0 364.9,340.0 369.4,340.0 374.3,340.0 378.8,195.0 383.6,195.0 387.7,195.0 391.9,445.3 396.4,445.3 401.3,445.3 405.4,445.3 409.8,445.3 414.9,445.3 419.3,177.8 423.5,177.8 427.7,407.7 432.1,407.7 436.8,407.7 441.6,407.7 446.6,407.7 451.9,407.7 456.3,407.7 461.0,407.7 465.9,407.7 469.9,428.1 475.1,177.8 480.0,177.8 484.7,177.8 489.5,177.8 494.5,177.8 499.0,177.8 503.6,306.7 508.6,428.1 513.9,306.7 518.2,306.7 522.7,306.7 527.0,306.7 531.7,306.7 536.2,428.1 540.7,513.0 545.0,513.0 550.4,428.1 554.8,428.1 559.1,428.1 563.8,428.1 568.3,513.0 573.2,513.0 577.3,513.0 582.7,513.0 587.9,513.0 592.9,513.0 597.4,513.0 601.9,513.0 606.2,513.0 611.0,513.0 615.4,513.0 620.0,428.1 624.8,513.0 629.0,513.0 633.2,513.0 638.0,513.0 643.0,513.0 647.6,298.1 651.9,298.1 657.1,298.1 662.2,298.1 666.7,298.1 672.0,298.1 676.2,195.0 680.6,298.1 685.6,195.0 690.6,195.0 695.0,195.0 700.1,195.0 705.4,195.0 709.9,195.0 715.2,195.0 719.6,195.0 724.0,513.0 728.2,513.0 732.9,513.0 738.2,513.0 743.0,195.0 748.2,195.0 753.3,195.0 757.9,513.0 762.9,513.0 767.4,513.0 772.4,513.0 776.5,513.0 781.0,513.0 785.4,513.0 790.2,443.7 794.8,443.7 799.4,513.0 804.0,513.0 808.6,513.0 813.3,513.0 818.3,513.0 823.1,513.0 827.6,298.1 833.0,298.1 838.1,195.0 843.1,298.1 848.0,298.1 852.3,298.1 857.5,340.0 862.7,340.0"/>
<polyline stroke="#e377c2" points="173.1,513.0 195.0,513.0 199.0,458.2 220.9,445.6 225.1,446.9 243.6,425.2 247.6,405.1 267.3,377.9 272.0,377.9 276.2,377.9 280.9,377.9 285.0,377.6 289.6,377.6 294.9,377.6 299.1,377.6 303.5,377.6 308.4,377.6 312.8,377.6 317.2,405.6 322.1,405.6 326.3,405.6 329.3,513.0 333.7,445.3 338.6,459.3 342.7,340.0 347.5,306.7 351.5,513.0 356.3,513.0 360.3,513.0 364.9,513.0 369.1,513.0 374.4,513.0 379.5,340.0 384.6,177.8 389.9,177.8 394.0,177.8 398.2,177.8 403.1,177.8 407.3,177.8 411.7,177.8 416.1,177.8 421.0,177.8 425.4,177.8 429.6,177.8 434.7,298.1 439.7,298.1 444.1,306.7 449.4,306.7 454.1,306.7 458.5,340.0 463.8,391.6 468.1,391.6 472.4,391.6 476.5,391.6 481.1,306.7 485.5,306.7 490.1,306.7 495.1,306.7 499.7,306.7 504.5,428.1 509.6,428.1 513.8,513.0 518.8,513.0 523.2,513.0 527.5,513.0 531.6,513.0 536.9,513.0 541.3,428.1 545.5,428.1 549.8,428.1 554.0,428.1 558.7,428.1 563.6,428.1 567.7,428.1 573.0,428.1 578.2,428.1 583.5,428.1 587.5,513.0 591.5,513.0 595.6,513.0 600.1,513.0 604.6,513.0 610.0,513.0 614.8,513.0 619.9,513.0 625.0,513.0 630.0,513.0 634.7,426.0 639.2,426.0 643.3,426.0 647.3,408.8 652.6,408.8 657.6,408.8 662.3,513.0 667.6,513.0 672.0,298.1 676.2,298.1 681.4,298.1 686.0,298.1 691.0,340.0 696.1,340.0 701.2,340.0 705.9,340.0 710.6,195.0 715.9,195.0 720.1,340.0 725.1,195.0 729.9,195.0 730.0,408.8 733.0,340.0 786.0,340.0 789.0,513.0 790.8,408.8 795.9,408.8 800.7,408.8 805.5,408.8 809.9,408.8 814.8,408.8 819.9,513.0 824.0,513.0 828.1,513.0 833.3,298.1 837.5,298.1 842.9,298.1 848.2,298.1 852.5,298.1 856.8,298.1 861.6,298.1 865.7,298.1"/>
<polyline stroke="#7f7f7f" points="167.5,513.0 291.8,513.0 295.8,460.2 318.0,446.1 321.5,443.3 325.8,443.3 327.1,428.1 332.2,513.0 337.1,513.0 341.7,513.0 346.1,513.0 351.4,513.0 355.6,513.0 360.6,298.1 365.7,298.1 369.8,298.1 374.4,298.1 379.5,298.1 384.2,298.1 388.2,306.7 392.9,306.7 397.4,306.7 402.3,306.7 406.9,306.7 412.2,306.7 417.2,306.7 421.9,306.7 427.3,177.8 432.1,177.8 436.6,177.8 441.9,177.8 447.0,177.8 451.7,177.8 456.1,177.8 461.5,340.0 466.3,306.7 470.4,306.7 475.7,306.7 480.5,306.7 484.7,306.7 489.2,306.7 493.7,428.1 498.4,513.0 503.3,513.0 507.5,513.0 512.7,513.0 517.3,513.0 522.1,513.0 526.1,513.0 531.4,513.0 536.0,428.1 540.7,428.1 546.0,428.1 551.4,428.1 556.6,428.1 561.7,428.1 566.3,298.1 571.0,298.1 576.1,298.1 580.3,298.1 585.0,298.1 590.3,428.1 595.5,428.1 599.6,428.1 604.7,428.1 609.0,428.1 613.8,428.1 618.2,428.1 622.5,513.0 627.3,407.7 631.8,513.0 636.0,513.0 640.9,513.0 645.9,340.0 651.2,340.0 655.4,340.0 659.9,340.0 664.4,340.0 668.8,195.0 673.3,340.0 678.7,340.0 683.6,340.0 687.7,340.0 691.8,340.0 696.5,340.0 700.6,340.0 705.0,340.0 709.4,426.0 714.1,195.0 718.6,195.0 723.9,195.0 729.1,195.0 733.7,195.0 738.5,195.0 742.6,195.0 747.1,195.0 752.1,195.0 756.3,340.0 760.7,340.0 765.2,340.0 769.3,408.8 773.4,408.8 777.9,408.8 783.1,408.8 787.9,408.8 793.1,408.8 797.8,408.8 802.5,408.8 806.9,408.8 811.3,298.1 816.2,298.1 820.7,298.1 825.8,408.8 830.8,408.8 835.9,340.0 840.1,340.0 844.4,340.0 848.5,195.0 852.6,195.0 856.6,195.0 860.6,195.0 864.8,195.0"/>
<polyline stroke="#bcbd22" points="166.0,513.0 230.4,513.0 234.4,459.4 256.3,445.1 259.9,405.3 281.5,378.2 291.9,378.1 295.2,340.9 299.5,340.9 303.8,340.9 308.4,340.9 312.5,340.9 317.8,340.9 322.9,428.1 327.7,428.1 332.8,513.0 337.7,513.0 342.3,513.0 346.7,513.0 352.1,513.0 356.2,513.0 361.3,298.1 366.3,298.1 370.4,298.1 375.0,298.1 380.1,298.1 384.8,298.1 388.9,306.7 393.5,306.7 398.1,306.7 402.9,306.7 407.5,306.7 412.8,306.7 417.8,306.7 422.5,306.7 427.9,177.8 432.7,177.8 437.2,177.8 442.5,177.8 447.6,177.8 452.3,177.8 456.7,177.8 462.1,340.0 466.9,306.7 471.1,306.7 476.3,306.7 481.1,306.7 485.3,306.7 489.8,306.7 494.3,428.1 499.0,513.0 503.9,513.0 508.2,513.0 513.3,513.0 517.9,513.0 522.7,513.0 526.7,513.0 532.0,513.0 536.7,428.1 541.4,428.1 546.6,428.1 552.0,428.1 557.2,428.1 562.4,428.1 567.0,298.1 571.7,298.1 576.7,298.1 580.9,298.1 585.6,298.1 590.9,428.1 596.1,428.1 600.2,428.1 605.4,428.1 609.6,428.1 614.4,428.1 618.8,428.1 623.1,513.0 627.9,407.7 632.5,513.0 636.6,513.0 641.5,513.0 646.5,340.0 651.8,340.0 656.0,340.0 660.5,340.0 665.0,340.0 669.5,195.0 673.9,340.0 679.3,340.0 684.2,340.0 688.3,340.0 692.4,340.0 697.1,340.0 701.2,340.0 705.6,340.0 710.0,426.0 714.7,195.0 719.2,195.0 724.5,195.0 729.7,195.0 734.4,195.0 739.1,195.0 742.0,298.1 745.0,195.0 770.0,195.0 773.0,408.8 774.1,408.8 778.5,408.8 783.7,408.8 788.5,408.8 793.7,408.8 798.4,408.8 803.1,408.8 807.6,408.8 811.9,298.1 816.8,298.1 821.4,298.1 826.4,408.8 831.4,408.8 836.6,340.0 840.7,340.0 845.0,340.0 849.1,195.0 853.2,195.0 857.2,195.0 861.3,195.0 865.4,195.0"/>
<polyline stroke="#17becf" points="175.0,513.0 293.0,513.0 297.0,458.8 318.7,444.1 323.5,445.3 328.6,445.3 333.1,513.0 337.7,513.0 342.3,513.0 346.6,445.3 351.3,298.1 356.3,298.1 360.7,298.1 366.1,298.1 370.2,298.1 375.1,445.3 379.8,445.3 383.9,177.8 388.7,177.8 393.9,177.8 398.6,407.7 403.8,177.8 408.1,391.6 412.2,177.8 417.4,177.8 421.8,177.8 426.7,177.8 431.1,177.8 436.0,177.8 440.2,177.8 445.4,177.8 450.3,177.8 455.2,177.8 460.4,391.6 465.5,391.6 470.7,391.6 475.9,391.6 480.4,391.6 485.3,391.6 489.9,391.6 494.3,391.6 498.4,428.1 503.4,428.1 508.0,428.1 513.2,428.1 517.9,428.1 523.3,428.1 527.7,428.1 532.0,428.1 536.2,428.1 540.8,428.1 545.4,428.1 550.6,428.1 554.0,428.1 558.0,298.1 619.0,298.1 622.0,340.0 625.1,513.0 630.2,513.0 635.6,513.0 640.6,513.0 645.0,513.0 650.3,513.0 655.7,408.8 660.6,408.8 665.2,408.8 669.2,408.8 674.5,408.8 679.6,408.8 683.9,513.0 688.3,298.1 693.5,298.1 698.6,298.1 703.1,513.0 707.8,513.0 712.4,513.0 716.7,513.0 721.3,195.0 726.5,195.0 730.9,408.8 735.0,298.1 740.1,298.1 744.9,298.1 749.2,298.1 754.0,298.1 759.3,426.0 763.5,426.0 767.9,426.0 772.0,426.0 776.2,426.0 780.9,340.0 786.0,340.0 791.2,513.0 795.3,513.0 799.5,513.0 803.8,513.0 808.2,513.0 813.3,298.1 817.3,298.1 822.3,298.1 826.8,298.1 830.9,298.1 835.5,298.1 840.7,298.1 844.8,513.0 848.9,195.0 853.4,195.0 857.9,195.0 863.1,195.0"/>
<polyline stroke="#1f77b4" points="168.7,513.0 240.3,513.0 244.3,458.9 266.9,445.6 269.5,442.8 289.0,429.4 291.8,444.8 310.2,426.1 314.9,406.4 318.4,459.3 322.8,405.6 328.1,513.0 332.7,445.3 337.8,445.3 343.2,513.0 348.0,340.0 353.4,340.0 358.7,407.7 362.9,407.7 367.6,407.7 371.9,298.1 376.3,298.1 380.7,298.1 385.1,306.7 389.9,195.0 394.5,195.0 398.8,195.0 403.8,195.0 408.8,177.8 413.7,306.7 418.4,306.7 422.4,306.7 427.1,306.7 431.1,306.7 435.5,306.7 439.8,306.7 444.2,306.7 449.4,177.8 454.3,340.0 459.4,340.0 464.6,340.0 469.6,391.6 473.7,391.6 478.3,391.6 482.6,391.6 487.1,391.6 491.2,391.6 496.2,428.1 501.5,391.6 505.7,391.6 509.7,391.6 514.2,428.1 518.3,428.1 522.5,428.1 527.1,428.1 531.4,428.1 535.7,428.1 540.8,428.1 545.0,428.1 550.0,428.1 554.0,428.1 558.7,428.1 562.8,513.0 567.3,513.0 572.5,513.0 576.9,428.1 580.9,428.1 586.0,428.1 590.4,428.1 595.8,428.1 601.0,428.1 606.1,428.1 611.3,428.1 615.5,428.1 620.3,428.1 625.7,428.1 630.5,513.0 635.0,513.0 640.3,513.0 645.3,513.0 649.6,408.8 654.8,408.8 659.6,195.0 664.1,195.0 669.0,195.0 673.1,195.0 678.4,195.0 683.3,195.0 688.4,426.0 692.8,426.0 698.1,426.0 702.3,426.0 706.6,195.0 711.8,195.0 716.4,195.0 720.8,298.1 725.9,298.1 730.5,298.1 735.7,298.1 739.8,298.1 743.8,298.1 749.1,298.1 753.5,298.1 758.3,443.7 763.5,443.7 768.7,443.7 773.2,443.7 777.3,443.7 781.8,443.7 786.5,443.7 791.4,443.7 795.9,443.7 800.5,443.7 805.6,443.7 809.8,298.1 814.1,298.1 819.2,298.1 823.5,298.1 828.3,298.1 833.6,298.1 839.0,298.1 843.1,298.1 847.5,513.0 851.9,195.0 856.1,195.0 861.4,195.0"/>
<polyline stroke="#ff7f0e" points="176.2,513.0 242.6,513.0 246.6,460.0 267.9,446.5 272.9,442.5 290.1,427.7 294.6,446.8 312.2,430.1 316.3,447.7 321.6,377.6 326.5,377.6 331.4,459.3 336.1,445.3 341.1,513.0 345.8,513.0 349.9,445.3 354.0,445.3 359.0,445.3 363.2,445.3 367.3,445.3 371.9,445.3 376.5,177.8 381.7,177.8 386.3,177.8 391.3,177.8 395.7,177.8 401.0,340.0 405.6,340.0 409.6,340.0 414.4,340.0 419.3,407.7 424.6,407.7 429.9,407.7 434.4,407.7 438.6,407.7 443.1,391.6 448.0,445.3 452.4,306.7 456.6,306.7 461.2,177.8 465.6,428.1 470.9,428.1 475.7,428.1 480.8,428.1 485.2,407.7 489.8,428.1 494.6,340.0 499.5,428.1 504.3,428.1 508.5,428.1 512.6,428.1 516.8,428.1 521.6,428.1 526.2,428.1 531.1,428.1 536.0,428.1 540.8,513.0 545.1,513.0 549.9,428.1 554.9,513.0 560.1,513.0 564.9,513.0 569.0,513.0 573.2,513.0 578.2,513.0 583.3,428.1 587.9,513.0 592.3,513.0 597.4,513.0 601.9,513.0 606.0,513.0 610.1,513.0 615.2,513.0 619.7,513.0 624.3,513.0 629.1,340.0 633.2,298.1 637.6,426.0 641.9,426.0 647.3,298.1 651.7,298.1 656.8,298.1 660.9,298.1 665.7,298.1 670.8,195.0 676.0,195.0 680.1,195.0 684.3,195.0 688.4,298.1 693.5,298.1 698.8,408.8 703.0,195.0 708.1,195.0 713.5,195.0 718.6,298.1 723.0,298.1 728.4,195.0 732.7,408.8 737.6,408.8 742.2,408.8 747.3,298.1 752.3,298.1 756.9,340.0 760.9,340.0 766.2,340.0 770.4,340.0 775.7,340.0 780.7,340.0 785.0,340.0 789.4,513.0 793.8,513.0 798.0,513.0 803.3,513.0 808.1,513.0 813.3,340.0 818.7,298.1 822.9,408.8 828.1,408.8 832.6,340.0 837.8,340.0 842.7,340.0 847.8,195.0 852.3,195.0 856.7,340.0 861.2,340.0"/>
<polyline stroke="#2ca02c" points="173.1,513.0 309.8,513.0 313.8,459.5 318.5,459.5 322.7,459.5 324.9,445.3 329.8,513.0 334.3,445.3 339.2,459.3 343.3,340.0 348.0,306.7 352.1,513.0 356.9,513.0 360.9,513.0 365.5,513.0 369.7,513.0 375.0,513.0 380.1,340.0 385.2,177.8 390.5,177.8 394.5,177.8 398.7,177.8 403.6,177.8 407.9,177.8 412.3,177.8 416.7,177.8 421.6,177.8 426.0,177.8 430.2,177.8 435.2,298.1 440.3,298.1 444.7,306.7 450.0,306.7 454.7,306.7 459.0,340.0 464.3,391.6 468.7,391.6 473.0,391.6 477.1,391.6 481.7,306.7 486.1,306.7 490.7,306.7 495.7,306.7 500.2,306.7 505.1,428.1 510.2,428.1 514.4,513.0 519.4,513.0 523.8,513.0 528.1,513.0 532.2,513.0 537.5,513.0 541.9,428.1 546.1,428.1 550.4,428.1 554.5,428.1 559.2,428.1 564.2,428.1 568.3,428.1 573.6,428.1 578.8,428.1 584.0,428.1 588.1,513.0 592.1,513.0 596.1,513.0 600.7,513.0 605.2,513.0 610.5,513.0 615.4,513.0 620.5,513.0 625.6,513.0 630.6,513.0 635.3,426.0 639.8,426.0 643.9,426.0 647.9,408.8 653.1,408.8 658.1,408.8 662.9,513.0 668.2,513.0 672.6,298.1 676.8,298.1 682.0,298.1 686.5,298.1 691.5,340.0 696.7,340.0 701.8,340.0 706.4,340.0 711.1,195.0 716.4,195.0 720.7,340.0 725.7,195.0 730.5,195.0 735.1,195.0 739.9,195.0 745.0,195.0 749.8,195.0 754.5,195.0 759.0,408.8 763.5,408.8 768.9,408.8 773.5,408.8 777.5,408.8 782.0,408.8 787.2,408.8 791.4,408.8 796.5,408.8 801.3,408.8 806.1,408.8 810.5,408.8 815.4,408.8 820.5,513.0 824.6,513.0 828.7,513.0 833.9,298.1 838.1,298.1 843.5,298.1 848.8,298.1 853.1,298.1 857.4,298.1 862.2,298.1"/>
<polyline stroke="#d62728" points="174.9,513.0 241.1,513.0 245.1,459.8 267.0,446.0 271.0,443.6 288.5,431.2 293.6,444.6 311.1,429.1 315.4,405.0 319.9,405.0 324.3,405.0 328.9,405.0 333.1,428.1 338.7,407.7 343.6,407.7 348.7,407.7 353.9,407.7 358.2,407.7 363.2,298.1 367.9,298.1 372.1,298.1 376.4,298.1 381.0,428.1 385.2,428.1 389.9,428.1 394.7,428.1 399.2,177.8 403.4,177.8 408.2,298.1 412.5,195.0 417.4,428.1 421.6,407.7 425.6,428.1 430.8,340.0 435.6,340.0 441.0,391.6 445.1,177.8 449.3,177.8 453.6,177.8 457.9,177.8 462.5,177.8 466.9,177.8 471.8,428.1 477.0,428.1 481.3,391.6 486.3,340.0 491.4,340.0 495.8,340.0 500.4,340.0 505.4,340.0 510.3,340.0 514.8,340.0 519.9,340.0 524.1,340.0 529.3,428.1 534.5,428.1 539.7,428.1 545.0,513.0 550.2,513.0 555.3,513.0 560.2,513.0 561.0,513.0 565.0,306.7 606.0,306.7 609.0,428.1 613.2,428.1 618.5,428.1 623.9,428.1 628.4,513.0 633.8,513.0 638.0,513.0 642.4,340.0 646.7,340.0 650.7,513.0 655.2,340.0 660.0,340.0 664.9,340.0 669.1,340.0 673.8,340.0 679.1,340.0 683.4,340.0 688.6,340.0 693.0,195.0 698.0,195.0 702.0,195.0 707.0,195.0 711.2,195.0 716.6,195.0 720.7,195.0 724.8,195.0 729.7,195.0 734.7,195.0 739.3,195.0 744.6,195.0 749.0,195.0 754.0,195.0 759.2,443.7 763.3,443.7 768.0,443.7 772.2,513.0 777.2,513.0 782.6,513.0 787.0,513.0 791.3,513.0 796.2,513.0 800.8,513.0 805.9,513.0 810.9,513.0 815.6,513.0 820.1,513.0 825.3,513.0 830.5,408.8 834.9,408.8 840.0,408.8 845.2,408.8 849.8,298.1 854.6,298.1 859.1,195.0 864.5,195.0"/>
<polyline stroke="#9467bd" points="172.7,513.0 310.0,513.0 314.0,460.6 318.4,460.6 322.7,460.6 326.8,428.1 328.6,513.0 333.9,513.0 338.5,513.0 343.3,513.0 348.2,513.0 352.5,513.0 357.5,513.0 362.3,513.0 367.4,513.0 372.0,513.0 377.1,513.0 381.5,177.8 385.5,177.8 390.4,177.8 395.3,177.8 400.5,177.8 404.5,177.8 409.3,177.8 414.4,306.7 419.6,306.7 424.1,306.7 429.3,306.7 434.2,306.7 439.6,306.7 444.4,407.7 449.6,407.7 453.7,340.0 458.4,177.8 462.7,177.8 467.8,340.0 472.7,177.8 477.5,177.8 482.5,177.8 487.3,306.7 492.0,340.0 496.2,340.0 500.2,340.0 504.6,340.0 509.4,340.0 514.0,340.0 518.8,340.0 522.8,340.0 526.9,340.0 530.9,340.0 535.8,340.0 541.2,340.0 545.4,428.1 550.2,428.1 555.3,428.1 559.8,428.1 564.7,513.0 569.1,513.0 573.4,513.0 577.9,513.0 582.7,513.0 587.3,513.0 591.3,513.0 595.6,513.0 600.1,513.0 605.1,513.0 609.6,513.0 614.6,513.0 619.4,428.1 624.6,428.1 629.9,428.1 634.5,407.7 639.5,513.0 644.9,513.0 649.9,298.1 654.6,298.1 658.8,298.1 664.0,195.0 669.0,195.0 674.3,195.0 678.6,195.0 682.8,195.0 687.0,195.0 691.8,195.0 695.9,195.0 700.5,408.8 705.7,408.8 710.9,408.8 715.0,408.8 719.3,408.8 724.5,426.0 728.8,426.0 733.1,426.0 737.1,426.0 741.2,426.0 746.5,426.0 751.8,426.0 756.8,408.8 761.8,408.8 767.1,408.8 771.7,408.8 776.0,408.8 780.3,408.8 785.5,408.8 790.3,513.0 794.8,513.0 799.7,513.0 804.1,513.0 808.4,513.0 813.6,340.0 817.9,340.0 822.9,340.0 827.2,513.0 831.3,298.1 835.8,298.1 840.7,298.1 845.6,298.1 851.0,298.1 855.9,298.1 860.4,298.1 865.5,298.1"/>
<polyline stroke="#8c564b" points="171.7,513.0 182.4,513.0 186.4,459.9 208.6,444.8 212.6,404.4 234.1,377.6 240.1,373.0 245.5,327.7 268.2,273.7 274.5,339.5 279.5,339.5 284.1,339.5 288.5,405.6 292.9,405.6 298.2,405.6 302.5,405.6 307.0,405.6 312.3,405.6 317.1,428.1 322.3,428.1 324.1,445.3 329.2,445.3 333.6,513.0 338.3,513.0 342.8,513.0 347.2,445.3 351.9,298.1 356.9,298.1 361.3,298.1 366.6,298.1 370.8,298.1 375.7,445.3 380.4,445.3 384.5,177.8 389.3,177.8 394.5,177.8 399.2,407.7 404.4,177.8 408.6,391.6 412.7,177.8 418.0,177.8 422.3,177.8 427.2,177.8 431.6,177.8 436.5,177.8 440.7,177.8 446.0,177.8 450.8,177.8 455.8,177.8 461.0,391.6 466.1,391.6 471.3,391.6 476.4,391.6 480.9,391.6 485.9,391.6 490.5,391.6 494.8,391.6 499.0,428.1 504.0,428.1 508.6,428.1 513.7,428.1 518.5,428.1 523.9,428.1 528.3,428.1 532.6,428.1 536.8,428.1 541.4,428.1 546.0,428.1 551.2,428.1 555.7,428.1 560.2,428.1 564.5,428.1 568.9,428.1 573.7,428.1 578.9,428.1 583.7,428.1 588.4,428.1 593.1,428.1 597.3,428.1 602.4,428.1 607.4,428.1 611.6,513.0 616.1,513.0 621.1,513.0 625.6,513.0 630.8,513.0 636.2,513.0 641.2,513.0 645.6,513.0 650.9,513.0 656.3,408.8 661.2,408.8 665.7,408.8 669.7,408.8 675.1,408.8 680.2,408.8 684.5,513.0 688.9,298.1 694.1,298.1 699.2,298.1 703.7,513.0 708.3,513.0 713.0,513.0 717.3,513.0 721.8,195.0 727.1,195.0 731.5,408.8 735.6,298.1 740.6,298.1 745.5,298.1 749.8,298.1 754.6,298.1 759.9,426.0 764.1,426.0 768.5,426.0 772.5,426.0 776.8,426.0 781.4,340.0 786.6,340.0 791.7,513.0 795.9,513.0 800.0,513.0 804.4,513.0 808.8,513.0 813.8,298.1 817.9,298.1 822.8,298.1 827.4,298.1 831.5,298.1 836.1,298.1 841.3,298.1 845.3,513.0 849.5,195.0 853.9,195.0 858.5,195.0 863.7,195.0"/>
<polyline stroke="#e377c2" points="165.8,513.0 271.5,513.0 275.5,460.5 297.9,446.1 300.7,446.4 319.8,427.3 323.6,405.0 327.9,513.0 332.1,513.0 336.4,513.0 340.4,513.0 344.5,513.0 348.8,513.0 353.0,513.0 357.9,513.0 363.2,340.0 367.3,407.7 371.7,407.7 377.2,407.7 381.8,177.8 386.1,177.8 390.9,407.7 395.0,177.8 400.2,177.8 404.7,177.8 409.5,340.0 414.7,340.0 418.9,340.0 423.8,340.0 429.2,340.0 433.6,306.7 438.9,407.7 443.2,407.7 448.5,407.7 453.1,407.7 457.6,428.1 461.9,306.7 466.6,306.7 470.8,306.7 476.2,306.7 481.0,306.7 486.4,340.0 490.8,428.1 495.9,428.1 500.6,428.1 505.4,428.1 509.8,428.1 514.3,428.1 519.4,407.7 523.8,407.7 528.7,407.7 533.5,407.7 537.9,407.7 542.4,407.7 546.5,428.1 551.2,513.0 555.5,428.1 560.2,428.1 565.1,428.1 569.4,428.1 574.0,428.1 578.5,513.0 583.0,513.0 587.3,513.0 592.4,513.0 597.1,513.0 601.6,513.0 605.7,513.0 611.0,513.0 616.3,428.1 621.6,428.1 626.4,428.1 631.0,513.0 636.0,513.0 641.0,426.0 645.6,426.0 649.6,426.0 654.5,340.0 659.1,513.0 663.5,426.0 668.0,340.0 672.3,426.0 677.5,426.0 681.8,426.0 686.5,195.0 691.1,195.0 695.6,298.1 700.8,298.1 706.1,298.1 710.7,298.1 715.8,195.0 720.5,195.0 725.2,195.0 729.5,408.8 734.3,298.1 739.2,298.1 743.3,298.1 747.4,298.1 752.2,298.1 756.5,298.1 761.1,408.8 765.2,408.8 769.4,340.0 774.2,340.0 779.2,513.0 783.5,340.0 787.8,340.0 792.6,340.0 797.6,340.0 802.1,340.0 807.5,340.0 812.9,340.0 817.7,340.0 821.9,298.1 826.8,298.1 831.9,298.1 837.1,298.1 842.2,298.1 847.4,298.1 852.8,298.1 857.2,298.1 861.9,298.1"/>
<polyline stroke="#7f7f7f" points="169.6,513.0 174.6,458.5 197.2,445.4 201.0,404.7 221.0,376.8 229.0,372.6 233.6,326.7 255.2,273.3 263.0,340.0 267.3,340.0 271.4,428.1 276.1,428.1 280.8,340.0 285.6,340.0 290.8,340.0 295.3,340.0 299.8,340.0 304.2,340.0 309.6,340.0 314.2,340.0 319.0,340.0 321.2,405.6 326.0,405.6 330.2,340.0 334.8,340.0 340.1,340.0 345.1,340.0 350.2,340.0 355.0,340.0 360.2,306.7 365.6,298.1 370.8,298.1 376.2,298.1 380.9,298.1 386.0,298.1 391.0,298.1 395.5,298.1 399.8,298.1 404.9,391.6 409.1,391.6 413.3,306.7 418.0,177.8 423.3,195.0 428.0,195.0 432.2,195.0 437.4,195.0 441.4,195.0 446.4,195.0 450.7,195.0 455.6,407.7 460.4,407.7 465.0,407.7 470.2,407.7 474.9,407.7 479.6,177.8 484.3,177.8 489.1,177.8 493.2,177.8 498.4,306.7 502.9,306.7 507.0,306.7 512.2,306.7 517.3,306.7 521.6,306.7 526.8,428.1 531.9,513.0 536.3,513.0 540.7,513.0 544.9,513.0 549.4,513.0 554.3,513.0 558.9,428.1 564.2,428.1 569.2,428.1 573.6,428.1 578.9,513.0 583.2,428.1 588.5,428.1 593.7,428.1 598.0,428.1 603.4,513.0 607.9,513.0 611.9,513.0 616.0,513.0 620.4,513.0 625.5,513.0 629.9,513.0 634.1,513.0 639.3,408.8 644.3,408.8 649.3,513.0 653.5,298.1 657.7,195.0 662.2,195.0 666.4,195.0 670.5,195.0 675.4,195.0 679.5,195.0 684.5,195.0 689.4,340.0 694.7,195.0 699.9,195.0 704.8,426.0 710.0,426.0 715.1,426.0 720.2,426.0 724.8,426.0 729.1,195.0 733.3,408.8 738.5,513.0 742.5,513.0 747.8,426.0 753.0,426.0 757.5,426.0 762.9,443.7 767.2,443.7 771.5,443.7 776.5,513.0 781.9,513.0 785.9,340.0 791.1,340.0 795.8,340.0 801.0,340.0 805.1,298.1 809.8,298.1 815.0,298.1 819.0,298.1 823.4,298.1 828.4,298.1 832.5,298.1 837.6,298.1 841.9,426.0 846.9,513.0 851.6,195.0 856.6,195.0 861.9,195.0 865.9,195.0"/>
<polyline stroke="#bcbd22" points="175.8,513.0 195.2,513.0 199.2,458.1 220.7,444.0 225.2,444.6 243.2,430.0 247.9,404.7 268.7,376.4 282.9,376.9 286.8,341.1 291.6,445.3 296.4,377.6 300.9,377.6 305.2,377.6 310.6,377.6 315.8,377.6 320.1,377.6 325.2,377.6 329.2,445.3 333.8,445.3 337.7,298.1 341.9,298.1 346.2,340.0 351.4,340.0 356.6,340.0 361.4,340.0 366.2,407.7 371.5,298.1 376.6,298.1 380.7,298.1 384.9,298.1 390.0,298.1 394.1,177.8 398.6,177.8 403.9,177.8 408.4,177.8 413.4,177.8 418.4,177.8 423.6,177.8 428.7,407.7 433.5,407.7 438.8,306.7 444.0,340.0 448.9,340.0 453.0,407.7 457.5,407.7 462.9,306.7 468.0,306.7 472.1,306.7 476.9,306.7 482.3,306.7 487.1,407.7 491.4,407.7 496.0,407.7 500.3,407.7 505.4,428.1 509.7,428.1 513.7,428.1 518.0,428.1 522.1,428.1 526.9,428.1 531.1,428.1 535.6,428.1 540.4,513.0 544.4,513.0 549.0,513.0 554.0,513.0 558.0,428.1 561.0,391.6 620.0,391.6 623.0,298.1 627.4,513.0 631.8,513.0 636.6,513.0 641.4,513.0 646.0,513.0 650.9,195.0 655.4,195.0 660.3,195.0 665.3,195.0 669.4,195.0 674.3,195.0 679.4,195.0 684.2,195.0 688.9,195.0 693.7,195.0 697.7,195.0 702.5,195.0 707.3,195.0 712.4,408.8 717.3,408.8 721.4,408.8 726.5,408.8 731.3,298.1 736.2,298.1 741.4,298.1 745.7,298.1 750.3,298.1 755.0,298.1 759.7,443.7 764.8,443.7 769.7,340.0 774.6,340.0 779.5,340.0 783.8,340.0 788.1,340.0 793.1,340.0 797.4,513.0 802.5,340.0 806.5,513.0 811.7,513.0 816.2,513.0 820.2,513.0 824.4,513.0 829.3,298.1 834.5,513.0 839.1,513.0 843.4,298.1 847.6,408.8 851.7,298.1 856.6,298.1 860.7,298.1 865.2,298.1"/>
<polyline stroke="#17becf" points="176.9,513.0 302.3,513.0 306.3,460.0 328.5,444.6 333.1,513.0 337.7,513.0 342.5,513.0 347.4,513.0 351.7,513.0 356.7,513.0 361.5,513.0 366.6,513.0 371.2,513.0 376.3,513.0 380.7,177.8 384.7,177.8 389.6,177.8 394.5,177.8 399.7,177.8 403.7,177.8 408.5,177.8 413.6,306.7 418.8,306.7 423.3,306.7 428.5,306.7 433.4,306.7 438.8,306.7 443.6,407.7 448.8,407.7 452.9,340.0 457.6,177.8 461.9,177.8 467.0,340.0 471.9,177.8 476.7,177.8 481.7,177.8 486.5,306.7 491.2,340.0 495.4,340.0 499.4,340.0 503.8,340.0 508.6,340.0 513.2,340.0 518.0,340.0 522.0,340.0 526.1,340.0 530.1,340.0 535.0,340.0 540.4,340.0 544.6,428.1 549.4,428.1 554.5,428.1 559.0,428.1 563.9,513.0 568.3,513.0 572.6,513.0 577.1,513.0 581.9,513.0 586.5,513.0 590.5,513.0 594.8,513.0 599.3,513.0 604.3,513.0 608.8,513.0 613.8,513.0 618.6,428.1 623.8,428.1 629.1,428.1 633.7,407.7 638.7,513.0 644.1,513.0 649.1,298.1 653.8,298.1 658.0,298.1 663.2,195.0 668.2,195.0 673.5,195.0 677.8,195.0 682.0,195.0 686.2,195.0 691.0,195.0 695.1,195.0 699.7,408.8 704.9,408.8 710.1,408.8 714.2,408.8 718.5,408.8 723.7,426.0 728.0,426.0 732.3,426.0 736.3,426.0 740.4,426.0 745.7,426.0 751.0,426.0 756.0,408.8 761.0,408.8 766.3,408.8 770.9,408.8 775.2,408.8 779.5,408.8 784.7,408.8 789.5,513.0 794.0,513.0 798.9,513.0 803.3,513.0 807.6,513.0 812.8,340.0 817.1,340.0 822.1,340.0 826.4,513.0 830.5,298.1 835.0,298.1 839.9,298.1 844.8,298.1 850.2,298.1 855.1,298.1 859.6,298.1 864.7,298.1"/>
</g>
<g fill="none" stroke="#ff0000" stroke-width="10" stroke-linejoin="round" stroke-linecap="butt">
<polyline points="160.0,512.5 171.0,512.5 176.0,510.0 181.0,504.0 187.0,489.5"/>
<polyline points="195.4,470.4 214.6,438.3"/>
<polyline points="224.5,419.0 233.0,412.0 240.0,402.0 245.0,389.2"/>
<polyline points="251.5,368.0 256.0,360.0 262.0,356.0 268.0,362.0 275.5,373.5"/>
<polyline points="287.0,392.5 291.0,401.0 297.0,406.0 303.0,411.0 309.0,420.0"/>
<polyline points="315.4,440.4 330.4,478.0"/>
<polyline points="333.0,456.7 339.6,417.5"/>
<polyline points="343.0,399.0 349.0,359.5"/>
<polyline points="353.0,339.5 358.0,331.0 365.0,323.0 372.0,318.0 377.0,313.0"/>
<polyline points="382.7,292.4 391.5,254.5"/>
<polyline points="395.0,231.0 399.0,226.0 409.0,260.0"/>
<polyline points="415.5,278.0 423.0,298.0 426.0,301.0 436.0,299.0"/>
<polyline points="449.0,311.5 460.0,349.5"/>
<polyline points="464.0,368.0 477.0,404.0"/>
<polyline points="483.2,423.9 495.2,462.0"/>
<polyline points="502.3,479.0 515.0,485.0 524.0,488.5 530.0,484.0 534.5,477.5"/>
<polyline points="542.0,458.7 547.0,448.0 552.0,440.0 558.0,435.0 565.3,432.5"/>
<polyline points="582.7,421.5 596.0,422.5 607.0,445.0 611.0,447.5 615.0,446.0 624.0,409.4"/>
<polyline points="627.4,390.5 633.2,352.5"/>
<polyline points="637.0,332.0 648.0,321.0 655.0,311.0 661.7,304.0"/>
<polyline points="666.7,284.7 675.5,246.0"/>
<polyline points="682.0,233.7 690.8,271.0"/>
<polyline points="696.0,291.3 702.5,327.8"/>
<polyline points="717.5,335.0 727.0,343.0 732.0,352.0 735.5,367.5"/>
<polyline points="740.5,387.5 753.5,423.0"/>
<polyline points="767.3,439.3 779.3,474.0 788.0,472.0 796.7,434.0"/>
<polyline points="798.0,413.0 805.5,374.5"/>
<polyline points="807.0,355.0 810.0,342.0 816.0,335.0 823.0,331.0 829.0,326.0"/>
<polyline points="837.0,313.5 847.0,276.2"/>
<polyline points="852.0,256.0 856.0,237.0 866.0,250.0"/>
</g>
</g>
<g fill="#000">
<rect x="125" y="72" width="1" height="463"/><rect x="900" y="72" width="1" height="463"/>
<rect x="125" y="72" width="776" height="1"/><rect x="125" y="534" width="776" height="1"/>
<rect x="126" y="535" width="1" height="4"/><rect x="126" y="539" width="1" height="1" fill-opacity="0.5"/>
<rect x="228" y="535" width="1" height="4"/><rect x="228" y="539" width="1" height="1" fill-opacity="0.5"/>
<rect x="329" y="535" width="1" height="4"/><rect x="329" y="539" width="1" height="1" fill-opacity="0.5"/>
<rect x="431" y="535" width="1" height="4"/><rect x="431" y="539" width="1" height="1" fill-opacity="0.5"/>
<rect x="532" y="535" width="1" height="4"/><rect x="532" y="539" width="1" height="1" fill-opacity="0.5"/>
<rect x="634" y="535" width="1" height="4"/><rect x="634" y="539" width="1" height="1" fill-opacity="0.5"/>
<rect x="735" y="535" width="1" height="4"/><rect x="735" y="539" width="1" height="1" fill-opacity="0.5"/>
<rect x="837" y="535" width="1" height="4"/><rect x="837" y="539" width="1" height="1" fill-opacity="0.5"/>
<rect x="121" y="513" width="4" height="1"/><rect x="120" y="513" width="1" height="1" fill-opacity="0.5"/>
<rect x="121" y="459" width="4" height="1"/><rect x="120" y="459" width="1" height="1" fill-opacity="0.5"/>
<rect x="121" y="406" width="4" height="1"/><rect x="120" y="406" width="1" height="1" fill-opacity="0.5"/>
<rect x="121" y="352" width="4" height="1"/><rect x="120" y="352" width="1" height="1" fill-opacity="0.5"/>
<rect x="121" y="298" width="4" height="1"/><rect x="120" y="298" width="1" height="1" fill-opacity="0.5"/>
<rect x="121" y="244" width="4" height="1"/><rect x="120" y="244" width="1" height="1" fill-opacity="0.5"/>
<rect x="121" y="191" width="4" height="1"/><rect x="120" y="191" width="1" height="1" fill-opacity="0.5"/>
<rect x="121" y="137" width="4" height="1"/><rect x="120" y="137" width="1" height="1" fill-opacity="0.5"/>
<rect x="121" y="83" width="4" height="1"/><rect x="120" y="83" width="1" height="1" fill-opacity="0.5"/>
</g>
<g font-family="DejaVu Sans, sans-serif" font-size="13.739" fill="#000" letter-spacing="0.000">
<text x="126.45" y="554.53" text-anchor="middle">00:28:04</text>
<text x="227.95" y="554.53" text-anchor="middle">00:28:26</text>
<text x="329.45" y="554.53" text-anchor="middle">00:28:48</text>
<text x="430.95" y="554.53" text-anchor="middle">00:29:09</text>
<text x="532.45" y="554.53" text-anchor="middle">00:29:31</text>
<text x="633.95" y="554.53" text-anchor="middle">00:29:52</text>
<text x="735.45" y="554.53" text-anchor="middle">00:30:14</text>
<text x="836.95" y="554.53" text-anchor="middle">00:30:36</text>
<text x="114.78" y="518.53" text-anchor="end">0</text>
<text x="114.78" y="464.81" text-anchor="end">5000</text>
<text x="114.78" y="411.10" text-anchor="end">10000</text>
<text x="114.78" y="357.39" text-anchor="end">15000</text>
<text x="114.78" y="303.68" text-anchor="end">20000</text>
<text x="114.78" y="249.96" text-anchor="end">25000</text>
<text x="114.78" y="196.25" text-anchor="end">30000</text>
<text x="114.78" y="142.54" text-anchor="end">35000</text>
<text x="114.78" y="88.83" text-anchor="end">40000</text>
<text x="513.00" y="575.27" text-anchor="middle">time (s)</text>
<text x="61.65" y="304.00" text-anchor="middle" transform="rotate(-90 61.65 304.00)">TXs/min</text>
</g>
<text x="512.25" y="62.67" text-anchor="middle" font-family="DejaVu Sans, sans-serif" font-size="16.667" letter-spacing="-0.050" style="white-space:pre">Rate of transaction processing  -  v0.38.0-alpha.2</text>
</svg>
</body></html>
